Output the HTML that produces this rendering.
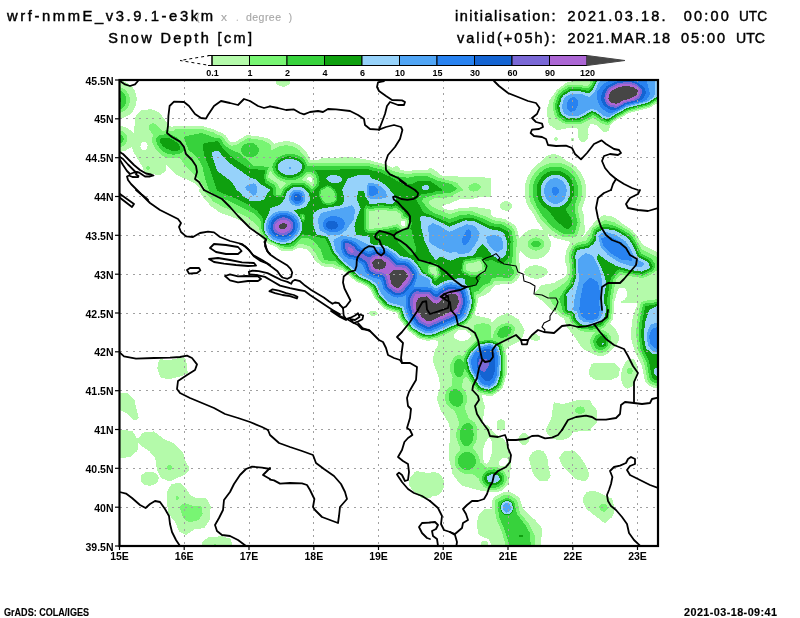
<!DOCTYPE html>
<html><head><meta charset="utf-8"><title>Snow Depth</title>
<style>
html,body{margin:0;padding:0;background:#fff;}
body{width:800px;height:618px;overflow:hidden;position:relative;font-family:"Liberation Sans",sans-serif;}
svg{position:absolute;left:0;top:0;will-change:transform;}
.t{position:absolute;white-space:nowrap;color:#000;font-family:"Liberation Sans",sans-serif;}
svg text{font-family:"Liberation Sans",sans-serif;font-size:10.5px;font-weight:bold;fill:#000;}
svg text.cbl{font-size:9px;font-weight:bold;}
</style></head><body>
<svg width="800" height="618" viewBox="0 0 800 618">
<defs><clipPath id="fr"><rect x="119.5" y="80.0" width="538.5" height="466.0"/></clipPath></defs>
<g clip-path="url(#fr)" shape-rendering="crispEdges">
<path fill="#b4faaa" fill-rule="evenodd" d="M283.2,86.8L279.8,86.2L276.7,84.2L276.0,81.8L277.7,79.2L288.3,79.2L289.5,80.8L290.1,82.8L288.8,84.8L286.2,86.2L283.2,86.8ZM583.2,142.3L580.4,141.2L578.3,138.2L577.5,134.8L578.2,129.2L577.8,128.7L570.2,127.5L557.8,130.3L548.8,124.8L546.6,111.8L546.8,109.3L549.5,100.2L556.9,89.8L565.8,83.0L573.8,80.6L587.2,80.5L588.4,80.2L589.1,79.2L597.8,79.1L658.4,79.2L658.2,102.5L650.2,107.6L629.2,112.9L616.2,120.2L610.8,124.2L610.0,125.2L609.2,130.5L605.2,132.1L603.8,132.3L602.8,131.8L596.8,125.3L591.8,124.0L590.2,124.2L587.9,128.8L588.6,134.2L587.8,138.2L585.8,141.2L583.2,142.3ZM121.2,118.3L118.8,118.5L118.8,80.7L122.2,81.1L125.8,82.2L131.1,85.8L133.3,88.2L135.2,91.8L136.8,98.2L136.0,105.2L132.8,111.6L130.2,114.2L127.4,116.2L121.2,118.3ZM496.8,492.4L490.2,492.4L476.8,489.8L462.2,485.7L460.1,484.2L452.6,474.2L448.6,456.8L450.0,435.8L450.0,428.8L448.2,422.2L440.5,410.2L436.7,398.8L440.3,385.8L438.4,376.2L433.1,362.2L432.6,359.8L435.2,349.2L438.4,345.2L438.4,342.8L437.2,340.9L434.8,339.7L427.8,340.8L419.8,339.0L415.8,336.4L408.5,330.8L403.1,324.2L398.7,318.2L397.0,312.8L387.2,310.1L384.7,308.8L374.9,298.8L370.2,289.1L365.7,285.8L355.4,281.2L348.5,274.8L342.8,270.3L335.8,268.8L332.2,266.8L324.8,266.6L321.2,265.7L314.7,260.2L311.0,253.8L307.1,249.8L305.2,248.8L298.2,247.7L294.2,250.3L289.8,251.2L284.2,251.2L279.8,250.1L275.8,246.9L269.2,244.1L262.5,239.2L259.7,236.2L257.2,231.8L244.8,223.1L234.2,217.8L220.2,212.7L211.2,206.4L205.1,199.8L199.0,191.2L198.8,190.2L199.7,188.8L199.5,187.8L195.2,183.5L177.2,175.2L166.2,164.3L165.6,165.2L165.7,170.8L160.2,175.2L158.8,175.3L146.8,173.0L145.1,172.2L143.6,170.8L142.5,166.8L133.0,151.2L132.2,146.9L131.8,146.7L125.2,150.9L118.8,152.2L118.8,125.8L122.8,126.3L126.7,127.8L129.8,129.7L133.2,133.0L134.0,131.8L135.1,118.8L136.2,115.2L141.2,110.3L151.2,109.1L159.8,112.7L169.2,126.2L172.2,126.7L176.2,126.1L198.8,125.5L203.2,126.3L214.2,129.4L218.8,131.9L222.8,133.2L225.3,135.2L228.9,140.2L231.8,142.6L235.8,141.8L245.2,135.8L248.2,135.1L260.8,136.8L269.2,138.9L270.2,139.4L274.2,143.8L279.8,142.0L284.2,141.3L289.2,141.4L293.8,142.5L298.8,144.8L303.2,148.3L306.4,152.2L310.0,159.2L311.2,160.2L316.8,160.3L322.2,158.1L350.8,157.1L369.8,160.1L376.2,162.2L384.8,164.0L392.2,167.6L393.2,167.6L395.8,166.3L397.2,166.3L398.8,167.2L400.2,169.5L406.8,171.2L415.8,169.9L427.8,169.8L429.8,167.3L435.8,170.8L440.2,174.9L444.2,176.0L489.8,177.7L490.6,178.2L490.9,179.8L490.9,195.2L490.2,197.1L478.2,197.5L470.2,199.4L458.8,199.5L450.7,203.2L442.2,205.6L441.7,206.8L444.2,208.5L449.2,210.5L453.2,209.9L458.8,208.2L474.8,207.1L489.8,209.2L490.8,210.2L491.1,214.8L493.8,217.1L504.8,219.0L514.3,224.8L516.8,228.2L518.8,236.4L519.8,238.1L524.3,232.8L529.8,229.6L535.8,228.8L543.2,230.6L543.7,230.2L536.8,220.8L533.8,214.4L528.9,207.8L526.6,202.8L525.1,197.8L524.5,190.2L525.4,183.2L527.9,176.2L531.6,170.2L545.0,157.2L548.8,155.1L552.8,154.2L556.2,154.4L559.8,155.8L565.8,160.3L572.2,163.8L576.2,167.0L580.2,171.7L583.2,176.8L585.2,182.2L586.2,188.2L586.3,193.2L585.6,198.2L581.9,208.2L583.9,215.8L585.0,232.2L584.3,233.8L581.7,236.2L581.6,237.2L583.8,235.9L594.6,221.8L601.8,216.2L604.2,215.1L612.2,216.6L615.7,218.2L623.1,224.2L632.2,230.0L637.2,236.2L643.0,245.2L658.2,252.8L658.2,388.4L654.2,387.9L650.8,386.5L647.8,384.8L645.8,382.6L644.6,379.8L641.9,365.8L634.6,350.8L631.1,338.8L630.6,334.8L632.6,317.8L637.5,303.8L635.8,303.2L622.2,303.1L620.8,302.3L620.4,301.2L624.2,300.2L626.7,296.8L627.0,292.2L625.2,288.8L623.2,287.5L620.8,287.5L618.8,288.7L617.4,290.8L614.6,300.8L614.1,304.2L614.3,308.2L612.9,318.8L610.3,323.8L610.8,324.8L615.0,328.2L619.5,337.2L619.3,339.8L616.3,345.2L613.4,347.8L610.2,351.9L607.2,354.1L604.2,355.4L600.8,356.0L597.8,355.7L593.2,354.2L583.8,349.5L582.3,348.2L574.9,337.2L566.8,326.8L564.2,318.6L560.8,316.8L555.2,311.9L552.8,310.8L544.8,303.0L535.6,295.8L534.8,294.2L535.6,292.2L541.2,285.3L553.8,282.9L564.8,277.0L567.2,272.2L567.5,269.8L567.2,267.5L564.8,261.1L564.6,259.2L566.6,249.8L569.7,243.2L569.8,241.8L555.3,238.2L547.8,233.5L547.2,233.8L550.5,240.8L550.7,246.2L549.8,249.6L548.3,252.2L543.7,256.8L537.8,259.0L534.2,259.2L531.0,258.8L525.6,256.2L520.2,250.5L519.8,250.7L519.0,258.2L520.5,272.8L520.0,275.2L516.8,280.7L511.8,283.7L502.8,284.0L495.2,285.4L494.0,286.2L489.8,291.7L484.8,295.0L477.8,297.8L477.5,303.2L474.8,314.2L475.2,315.2L476.8,315.9L489.8,318.6L490.6,319.2L491.5,321.8L492.8,322.1L497.8,317.0L506.8,313.3L508.2,313.3L518.8,319.6L524.8,330.2L521.7,338.8L520.2,341.2L510.8,345.3L505.8,349.2L506.6,355.8L506.6,374.8L502.7,387.8L500.2,390.4L492.8,395.5L489.2,396.1L482.8,395.0L481.7,395.8L484.9,406.2L482.2,424.5L488.2,425.4L491.0,429.8L495.8,434.5L504.2,439.2L509.9,450.2L510.9,467.2L509.0,481.8L507.2,485.4L504.2,488.7L500.8,491.0L496.8,492.4ZM556.8,141.0L555.2,141.0L554.0,139.8L554.0,138.2L555.2,137.0L556.8,137.0L558.0,138.2L558.0,139.8L556.8,141.0ZM573.2,141.3L571.8,141.4L570.8,140.2L570.9,138.8L571.8,137.9L572.8,137.8L574.0,138.8L574.0,140.2L573.2,141.3ZM145.2,150.2L147.4,147.8L147.6,144.8L145.8,142.1L143.2,141.6L140.8,143.8L140.4,147.2L142.2,149.9L143.8,150.5L145.2,150.2ZM311.8,181.8L312.1,180.2L311.5,178.2L310.2,176.9L308.8,176.8L307.3,178.2L307.1,179.2L310.8,182.1L311.8,181.8ZM506.8,210.8L502.8,210.1L501.1,208.8L500.2,207.2L500.1,205.2L500.7,203.8L503.8,201.5L506.2,201.2L508.8,201.7L510.8,203.1L511.8,204.8L511.9,206.8L510.9,208.8L509.2,210.1L506.8,210.8ZM404.4,225.8L405.4,224.2L405.2,222.1L403.8,220.7L401.8,220.9L400.5,222.8L400.7,224.8L402.2,226.1L404.4,225.8ZM537.8,278.8L531.8,278.3L526.8,276.1L525.2,274.7L524.3,272.8L524.3,271.2L525.2,269.3L529.2,266.5L534.8,265.2L540.6,265.8L545.2,267.9L547.6,270.8L547.8,272.6L547.1,274.2L543.4,277.2L537.8,278.8ZM374.2,315.8L372.2,315.8L370.2,315.1L369.1,313.8L369.3,312.2L370.8,311.1L372.8,310.6L376.2,311.7L377.5,312.8L377.8,313.9L376.8,314.9L374.2,315.8ZM464.6,340.8L468.8,339.0L470.9,336.2L470.1,333.8L466.2,330.7L463.2,329.5L459.8,329.7L457.2,331.0L454.0,334.2L453.8,336.8L456.2,339.3L460.2,340.8L464.6,340.8ZM537.2,340.8L534.8,340.8L530.5,339.2L529.2,337.8L529.4,335.8L531.2,334.3L533.2,333.8L535.2,333.8L537.6,334.8L540.1,336.8L540.5,338.2L539.5,339.8L537.2,340.8ZM170.2,378.8L167.2,379.1L161.2,377.5L159.8,376.2L157.3,368.2L158.4,361.8L159.2,359.8L161.2,359.3L167.8,360.2L183.2,357.4L185.2,357.7L186.1,360.2L187.2,368.2L187.7,372.2L187.3,373.8L178.8,377.0L170.2,378.8ZM629.2,388.3L627.2,388.6L625.8,388.3L623.2,385.8L621.5,380.8L621.1,374.2L622.5,368.2L625.2,362.8L628.2,359.7L631.8,358.6L634.2,359.7L636.3,362.8L637.5,367.2L637.6,372.8L636.8,377.5L634.8,382.4L632.2,386.0L629.2,388.3ZM611.2,379.8L595.8,380.1L590.2,376.5L589.4,375.2L588.8,370.2L591.6,364.2L593.2,363.3L604.8,362.8L613.2,362.8L614.8,363.4L619.4,367.8L619.7,369.2L619.2,373.8L618.6,376.2L617.8,377.2L611.2,379.8ZM136.2,420.3L134.8,420.6L133.8,420.1L127.2,413.3L118.8,409.5L118.8,392.3L128.2,393.6L134.4,399.8L138.6,417.8L138.0,419.2L136.2,420.3ZM563.2,439.8L557.2,439.8L551.8,438.1L548.3,435.2L545.7,430.2L546.0,428.8L551.4,417.8L553.1,405.2L553.9,402.8L554.8,402.3L556.8,403.3L558.8,403.2L563.2,404.0L577.2,400.1L590.2,400.4L591.5,403.2L596.8,410.2L596.9,421.2L596.3,423.2L591.5,428.2L590.8,430.4L589.9,431.2L573.8,431.6L570.2,436.8L566.8,438.8L563.2,439.8ZM502.2,430.4L500.2,430.6L498.8,429.9L497.2,428.3L496.5,426.2L496.5,423.8L497.2,421.8L498.5,420.2L500.2,419.4L501.8,419.4L503.5,420.2L504.8,421.8L505.5,423.8L505.1,427.8L503.8,429.5L502.2,430.4ZM171.2,480.8L168.8,481.0L162.2,478.5L160.5,477.2L156.9,470.2L155.3,458.2L149.3,451.2L141.5,446.2L138.2,442.2L137.4,450.8L132.5,455.2L129.8,457.1L118.8,458.2L118.8,430.3L132.2,430.6L136.8,438.0L137.8,438.6L143.2,432.6L153.8,431.4L164.2,439.2L172.8,442.7L175.1,444.2L182.8,452.2L185.6,461.2L189.5,468.2L188.8,470.3L186.2,473.9L171.2,480.8ZM525.2,444.8L523.2,445.0L521.2,444.1L519.2,442.0L518.4,439.8L518.5,437.8L519.4,435.8L521.2,433.9L523.2,433.0L525.2,433.2L527.2,434.2L528.9,436.2L529.6,438.2L528.8,442.0L527.2,443.8L525.2,444.8ZM486.6,463.8L488.2,462.3L489.8,459.7L492.4,451.2L491.8,441.8L490.8,439.0L489.2,438.1L487.8,438.8L485.7,441.8L483.6,447.2L482.8,451.2L482.9,456.8L483.7,461.2L484.8,463.3L486.6,463.8ZM547.2,480.9L541.2,481.2L539.2,480.8L534.8,476.0L532.3,471.8L528.9,458.2L532.2,452.7L533.8,451.3L536.8,450.3L543.2,450.6L547.3,457.2L548.9,468.8L550.6,475.8L549.8,477.8L547.2,480.9ZM586.2,480.9L584.8,481.2L577.2,479.9L571.2,475.1L562.8,466.5L558.9,458.2L563.0,451.8L566.8,450.8L572.8,450.4L575.0,451.8L579.8,456.0L585.3,464.2L589.5,474.2L589.2,476.3L586.2,480.9ZM504.4,465.8L507.2,463.8L508.5,461.2L508.0,459.2L505.8,458.0L503.2,458.1L501.2,459.0L499.6,460.8L498.8,462.8L499.0,464.2L500.2,465.6L502.2,466.1L504.4,465.8ZM152.8,485.3L149.8,485.7L146.8,485.4L144.2,484.4L142.2,482.8L140.8,480.3L140.5,478.2L141.2,475.8L143.0,473.8L146.2,472.0L150.2,471.5L154.2,472.5L157.5,474.8L158.7,477.2L158.2,480.8L156.2,483.4L152.8,485.3ZM430.2,497.9L421.2,497.9L413.2,491.1L409.2,485.3L408.8,483.2L409.8,478.2L415.2,471.6L417.2,471.3L422.8,471.8L428.8,473.5L432.2,472.2L435.8,472.2L439.3,473.8L442.3,477.2L443.7,480.8L444.0,484.2L443.5,487.8L442.2,490.9L438.5,494.8L435.8,495.8L432.2,496.1L430.2,497.9ZM186.2,534.9L183.8,534.3L178.8,531.2L175.7,522.8L168.8,514.2L166.9,503.8L166.8,492.8L168.2,489.2L171.2,484.6L178.2,482.4L180.8,483.5L185.1,487.2L189.7,494.2L191.2,495.7L196.2,498.1L205.2,498.3L206.5,498.8L209.3,503.2L210.7,506.8L209.6,520.2L204.8,527.5L201.2,528.6L194.2,529.4L186.2,534.9ZM540.8,546.8L492.5,546.8L488.8,539.4L480.2,535.8L478.6,534.2L476.6,524.2L478.8,514.8L484.2,509.3L491.8,508.8L492.4,499.8L493.5,497.8L495.2,496.3L503.2,492.2L505.8,491.6L509.2,491.9L512.2,493.2L516.8,495.8L519.0,497.8L520.0,499.2L521.8,505.2L524.2,510.0L535.2,520.1L541.7,527.8L541.9,532.2L540.8,546.8ZM605.2,522.9L604.2,522.9L602.0,521.2L587.5,509.8L585.8,507.7L583.7,503.8L582.8,498.8L583.7,496.2L586.2,492.6L589.8,491.4L596.2,491.4L612.3,498.8L614.1,506.2L614.5,511.2L612.2,517.0L605.2,522.9ZM232.8,546.8L201.8,546.8L201.8,542.8L202.8,541.0L209.2,537.0L222.2,536.3L230.2,538.6L233.0,545.8L233.2,546.8L232.8,546.8ZM485.2,546.8L483.2,546.8L480.7,544.8L480.6,542.8L481.8,541.5L485.2,540.7L488.0,542.2L488.5,543.2L488.1,544.8L485.2,546.8Z"/>
<path fill="#78f573" fill-rule="evenodd" d="M607.8,125.5L600.8,123.0L593.2,117.7L582.2,123.5L578.8,124.4L567.8,124.5L562.8,122.9L557.8,119.6L555.8,117.5L554.6,115.2L552.9,109.2L552.5,106.2L553.0,103.2L556.4,93.8L559.2,90.7L565.2,86.4L567.2,85.5L570.2,85.0L579.8,85.0L587.2,86.0L589.2,84.2L591.6,79.2L658.4,79.2L658.2,101.1L656.2,101.8L649.8,106.3L628.8,111.6L615.2,119.2L609.8,123.2L607.8,125.5ZM120.2,112.8L118.8,112.9L118.8,87.1L122.8,88.0L126.2,90.5L128.9,94.8L129.9,99.2L129.4,103.8L127.3,108.2L124.2,111.2L120.2,112.8ZM431.2,338.8L427.8,339.2L420.2,337.6L410.8,330.8L408.1,328.2L400.4,318.2L398.4,311.8L387.8,308.7L385.1,307.2L376.2,298.2L371.2,288.0L366.2,284.4L356.2,280.1L349.5,273.8L341.2,267.3L336.8,266.0L333.2,263.7L325.2,263.6L322.8,263.0L318.8,259.8L314.9,252.2L311.2,247.1L305.2,244.6L299.2,243.8L292.8,248.5L284.8,249.0L280.8,248.1L276.6,244.8L269.8,241.9L262.9,236.8L260.8,233.8L258.2,226.5L248.8,218.1L238.2,212.8L223.8,207.5L213.2,201.4L204.2,191.2L203.8,190.2L204.6,188.8L204.5,187.8L198.8,179.0L184.8,165.1L180.2,158.1L172.2,158.5L166.8,157.7L161.2,155.0L156.8,150.8L154.5,147.2L152.5,142.8L151.9,138.8L153.0,134.8L149.0,129.2L148.6,127.2L149.5,124.8L152.2,123.2L155.2,123.9L161.8,130.7L167.8,130.3L173.8,131.1L175.2,129.4L176.2,129.1L186.2,129.0L189.2,128.6L199.2,128.6L202.2,129.1L213.2,132.3L217.2,134.7L221.2,135.8L223.5,137.8L226.8,142.8L231.2,145.9L237.2,144.5L246.3,138.8L248.2,138.1L262.2,140.1L269.2,143.5L270.8,145.0L271.1,149.8L271.8,150.6L276.2,147.7L280.8,145.9L285.8,145.3L290.5,145.8L294.9,147.2L299.4,150.2L307.0,159.2L309.2,162.8L310.2,163.3L370.2,163.5L383.2,166.7L392.8,170.9L406.8,174.3L416.2,172.9L430.0,173.2L437.8,177.5L456.8,182.6L462.5,189.2L462.8,190.2L462.2,191.1L459.0,191.8L450.8,196.7L442.2,198.4L436.8,198.0L432.9,198.8L429.2,201.2L428.7,202.2L429.2,203.2L432.2,206.8L449.2,214.1L450.8,214.1L459.2,211.1L470.2,210.6L489.2,217.8L492.8,220.1L503.3,221.8L511.4,226.2L514.2,229.8L516.9,240.8L516.0,254.2L516.0,266.8L517.5,272.8L516.1,275.8L511.8,280.5L508.2,281.1L498.2,280.5L493.8,281.6L491.7,284.8L486.2,287.1L480.2,293.2L475.8,295.2L476.3,302.2L474.8,310.0L471.5,317.8L467.2,323.1L463.2,325.9L440.2,336.5L436.8,337.9L431.2,338.8ZM120.2,147.4L118.8,147.6L118.8,130.4L122.1,131.2L124.8,133.0L126.5,135.2L127.4,138.2L127.1,141.2L125.8,143.9L123.2,146.1L120.2,147.4ZM575.2,236.8L571.8,237.2L562.2,236.8L550.8,229.8L540.2,218.2L530.7,202.2L529.0,196.8L528.5,191.2L528.9,185.8L530.5,180.2L533.0,175.2L536.5,170.8L540.8,167.1L545.8,164.4L550.8,162.9L555.8,162.5L560.8,163.0L565.8,164.7L570.2,167.2L574.3,170.8L577.8,175.1L580.1,179.8L582.0,186.2L582.3,193.2L581.2,199.2L578.3,206.2L577.7,209.2L580.6,222.8L577.8,233.8L576.7,235.8L575.2,236.8ZM148.8,169.9L147.2,169.9L146.1,168.8L146.1,167.2L147.2,166.1L148.8,166.0L150.0,167.2L149.9,168.8L148.8,169.9ZM280.6,188.8L286.1,183.8L286.2,182.8L280.8,180.8L276.8,178.4L273.2,175.1L270.2,170.4L269.8,170.6L268.2,176.2L268.4,177.8L276.2,182.7L278.6,185.8L279.8,189.1L280.6,188.8ZM313.2,185.8L314.6,181.2L314.0,177.8L311.2,174.6L309.2,173.9L307.8,174.1L301.9,179.8L302.2,180.2L306.2,181.7L311.8,185.9L313.2,185.8ZM476.2,191.3L472.8,191.6L469.8,190.2L468.3,188.2L469.0,185.8L470.9,184.2L474.2,183.1L476.8,183.3L479.2,184.5L480.5,186.2L480.5,188.2L478.9,190.2L476.2,191.3ZM372.2,228.8L385.8,227.0L397.2,224.1L398.2,224.4L400.8,227.6L403.8,228.2L405.2,227.6L406.7,226.2L407.6,222.8L406.8,220.8L405.4,219.2L400.8,218.2L400.8,214.2L395.8,210.6L390.8,211.0L381.8,209.7L369.2,211.1L368.5,212.8L368.5,227.8L369.8,228.9L372.2,228.8ZM602.2,352.8L598.8,352.8L595.7,351.8L592.8,349.3L591.0,346.2L590.1,342.2L590.5,338.8L592.2,335.2L594.8,332.2L584.2,331.5L579.2,330.4L577.3,329.2L570.5,322.2L568.7,317.2L564.8,316.1L562.2,314.8L553.6,305.2L551.0,301.2L548.6,294.2L549.7,292.8L561.0,285.8L568.2,279.4L570.0,273.8L570.0,265.2L568.6,260.2L569.0,254.2L569.8,251.2L572.5,246.2L576.2,243.1L585.8,240.6L590.2,234.4L591.7,229.8L592.9,227.8L603.2,220.8L605.2,220.1L614.1,222.2L629.8,231.2L633.9,235.2L642.1,249.8L658.2,257.8L658.2,270.4L655.2,271.5L652.2,273.7L645.8,277.0L642.2,277.9L620.8,274.9L619.2,275.9L615.8,280.2L611.9,302.2L612.3,307.8L610.8,318.8L605.2,326.2L601.0,329.8L605.8,331.1L609.2,333.9L611.4,338.2L611.6,343.2L610.4,346.8L608.2,349.6L605.3,351.8L602.2,352.8ZM538.8,250.3L536.2,250.7L533.2,250.3L530.8,249.0L528.8,247.2L527.7,245.2L527.6,243.2L528.4,241.2L530.2,239.3L533.2,237.7L536.8,237.3L540.2,238.3L543.2,240.8L544.4,243.2L544.1,245.8L542.2,248.3L538.8,250.3ZM476.9,271.8L481.2,270.2L482.2,268.5L482.2,265.2L479.8,260.7L478.8,260.5L475.8,262.2L466.2,263.9L465.6,268.8L466.2,270.2L472.2,272.1L476.9,271.8ZM436.3,275.8L437.1,273.8L435.8,267.5L433.2,266.6L429.8,267.0L429.3,268.2L430.2,272.2L435.2,275.9L436.3,275.8ZM658.2,385.9L655.2,385.6L651.2,384.0L649.2,382.8L647.6,380.8L644.1,362.8L638.4,350.8L636.0,335.2L637.1,320.8L639.8,306.2L640.9,303.2L642.2,301.7L644.2,300.8L658.2,299.1L658.2,385.9ZM494.2,490.3L489.2,489.8L484.2,487.3L480.5,483.2L478.8,478.6L472.2,473.7L466.2,474.1L462.8,473.2L458.8,470.8L456.0,467.2L454.6,462.8L454.8,458.2L456.3,454.2L459.8,450.2L460.2,448.8L460.0,446.8L456.9,440.2L456.1,435.2L456.8,430.2L459.5,423.2L454.8,410.8L449.8,407.6L446.6,403.8L445.1,399.8L444.9,395.8L446.8,390.2L448.8,387.9L451.2,386.1L452.0,384.8L452.6,377.2L450.6,372.2L449.9,367.8L450.6,363.8L452.1,360.2L454.3,357.2L456.8,355.5L459.2,355.0L463.2,356.0L467.1,349.2L476.2,339.8L473.5,334.2L473.7,325.2L476.8,324.1L483.8,323.1L490.1,324.8L490.9,326.2L491.1,336.8L491.6,337.8L492.8,337.9L493.8,332.2L497.7,326.8L501.8,324.1L507.2,323.1L510.8,323.8L513.2,325.2L514.6,327.2L514.9,330.2L513.4,334.2L510.6,337.8L507.2,339.8L501.6,341.8L503.2,345.8L505.0,355.2L505.0,373.8L503.6,380.2L501.1,387.2L493.8,393.1L491.2,394.2L488.2,394.4L479.8,392.5L477.8,391.6L476.2,390.2L466.2,376.1L463.0,379.8L461.9,387.2L465.5,392.2L467.0,396.2L467.0,401.8L464.7,407.2L467.4,415.2L468.8,418.8L474.0,421.8L475.6,423.8L476.7,426.2L477.0,437.8L475.9,441.8L473.5,446.2L473.4,448.8L478.4,455.2L479.4,458.2L479.9,462.2L486.8,467.6L493.8,466.7L496.8,467.1L500.2,468.5L504.2,471.8L506.6,475.8L507.1,478.2L506.8,480.8L504.4,485.2L499.8,488.8L494.2,490.3ZM630.8,374.4L628.2,374.4L626.5,372.2L626.7,369.2L628.8,367.5L631.1,367.8L632.7,369.8L632.7,372.2L630.8,374.4ZM580.8,413.8L577.8,413.5L575.2,411.6L575.0,409.2L576.8,407.2L580.8,406.3L582.8,406.9L584.3,408.2L584.9,409.8L584.5,411.8L582.8,413.2L580.8,413.8ZM170.8,469.9L168.8,470.1L167.1,468.2L167.3,466.2L168.8,465.1L170.8,465.2L172.1,466.8L172.0,468.8L170.8,469.9ZM534.8,546.8L506.1,546.8L501.8,531.8L495.7,517.2L494.9,502.8L495.2,500.8L496.3,499.2L504.2,495.1L506.8,494.5L511.2,496.1L516.7,499.8L517.8,502.8L519.9,512.8L528.8,523.8L534.7,535.8L534.8,546.8ZM177.8,499.8L176.8,500.0L175.7,498.8L175.7,497.2L176.8,496.0L177.8,496.2L178.5,497.2L178.6,498.8L177.8,499.8ZM192.2,521.8L189.8,522.2L187.2,521.4L184.8,519.7L183.3,517.8L179.5,507.2L180.2,505.9L183.8,503.4L185.8,503.3L194.2,506.2L200.2,506.3L201.6,507.2L202.7,513.8L201.6,516.2L198.2,520.1L192.2,521.8ZM604.2,511.8L601.2,511.0L599.4,508.2L599.6,505.2L602.2,503.5L605.8,504.0L607.6,506.8L607.6,508.8L606.9,510.2L604.2,511.8ZM215.2,546.3L214.2,546.2L213.4,545.2L214.2,543.9L215.8,543.9L216.6,544.8L216.4,545.8L215.2,546.3Z"/>
<path fill="#37d23c" fill-rule="evenodd" d="M607.8,122.9L601.8,120.9L595.6,116.2L592.8,115.2L586.8,118.7L579.2,122.1L568.2,122.3L564.4,121.2L557.7,116.2L555.1,108.8L555.0,104.2L558.2,94.9L562.2,91.2L568.2,87.5L580.2,87.2L588.2,88.3L591.2,85.3L594.1,79.2L658.3,79.2L658.2,99.8L655.8,100.6L649.2,105.0L628.2,110.3L615.0,117.8L607.8,122.9ZM119.8,109.3L118.8,109.4L118.8,90.6L121.2,91.1L123.8,92.9L125.5,95.8L126.3,99.2L126.0,102.8L124.8,105.8L122.4,108.2L119.8,109.3ZM429.2,337.8L420.8,336.3L411.0,329.2L401.4,317.2L399.6,310.8L388.8,307.6L386.1,306.2L377.3,297.2L373.0,287.8L368.2,284.0L356.8,278.7L350.2,272.5L342.2,266.1L338.2,263.8L335.2,261.0L324.2,260.2L320.5,249.2L315.2,242.5L310.3,238.8L306.2,237.8L301.8,237.5L293.3,245.8L289.8,246.8L282.2,246.4L272.2,242.1L269.3,240.2L266.1,237.2L263.0,233.2L260.9,226.8L260.9,222.2L260.2,220.2L253.2,213.1L230.8,201.7L218.2,196.9L209.2,190.8L205.1,179.2L202.2,166.0L196.8,156.8L188.7,150.2L184.0,138.2L184.2,136.8L186.2,136.0L201.8,132.9L214.8,137.8L219.2,138.2L221.2,139.8L223.9,144.2L225.8,146.0L230.8,149.6L240.6,153.8L253.3,165.8L269.2,166.8L267.8,169.2L266.8,172.8L266.1,176.2L266.3,178.8L267.2,180.8L272.8,183.8L275.4,186.2L276.5,189.8L276.0,193.8L276.5,194.8L277.5,195.2L280.8,194.7L283.8,188.6L291.8,183.0L303.8,183.0L306.8,184.7L312.2,189.2L315.2,186.8L316.6,183.8L317.1,179.8L316.1,176.2L313.7,173.2L310.2,171.5L306.8,171.5L303.2,175.3L299.8,177.8L295.8,179.5L291.2,180.3L286.8,180.1L282.2,178.8L278.2,176.5L275.2,173.7L273.5,170.8L272.1,166.8L273.8,162.6L275.7,159.8L279.2,156.8L283.2,154.8L287.8,153.8L292.8,153.9L297.8,155.2L302.2,157.9L305.2,161.0L307.5,165.8L308.2,166.3L369.8,166.4L373.2,167.7L382.2,169.6L396.2,176.2L408.2,177.8L416.2,175.9L426.8,175.9L436.8,180.4L450.8,183.9L456.3,187.8L456.8,188.8L456.3,189.8L450.8,192.5L445.2,192.8L441.8,194.1L436.2,194.3L423.2,198.4L422.2,200.2L422.4,201.8L428.8,209.5L434.2,213.0L449.8,219.1L459.2,215.5L468.2,214.4L471.2,214.6L482.8,218.6L492.2,223.2L502.2,224.6L509.8,228.8L511.0,230.2L511.8,232.2L513.6,241.2L512.6,256.8L510.9,265.8L514.3,271.8L513.3,274.2L509.8,278.0L498.2,277.1L491.1,278.8L489.8,282.9L482.2,285.7L478.3,290.8L473.6,292.2L474.9,301.2L473.6,308.8L470.6,316.2L466.9,321.2L462.2,324.6L447.2,331.6L436.2,336.3L429.2,337.8ZM119.8,143.8L118.8,143.9L118.8,134.1L122.2,135.6L123.8,138.8L122.8,141.8L119.8,143.8ZM177.8,154.3L173.2,154.6L169.2,154.2L165.8,153.0L162.8,151.1L159.2,147.5L156.7,143.2L155.9,139.8L156.8,137.2L158.2,135.9L160.8,134.9L167.2,134.2L172.8,135.2L177.3,137.8L182.5,143.8L184.2,148.8L183.8,150.8L182.6,152.2L177.8,154.3ZM251.8,157.3L248.8,157.3L245.8,156.6L243.2,155.1L241.9,153.2L241.1,150.2L241.6,147.8L243.2,145.3L245.8,143.7L249.2,142.8L253.2,143.3L256.2,144.9L258.5,147.8L258.9,150.8L257.7,153.8L255.2,156.0L251.8,157.3ZM573.8,234.0L563.2,233.9L552.2,226.9L542.7,216.2L537.2,207.1L534.4,200.8L533.0,196.2L532.5,191.2L532.8,186.8L534.1,181.8L536.4,177.2L539.6,173.2L543.2,170.2L547.2,168.1L551.2,166.9L555.8,166.5L560.2,167.0L564.2,168.4L568.2,170.7L571.7,173.8L574.4,177.2L576.6,181.8L578.1,187.2L578.3,192.8L577.4,197.8L575.2,203.8L574.6,209.8L577.6,222.2L575.0,232.2L573.8,234.0ZM329.5,202.8L334.0,201.8L335.5,200.2L335.8,198.8L334.0,191.2L329.2,187.4L327.8,186.8L321.5,190.2L320.2,195.2L323.8,202.0L326.2,203.1L329.5,202.8ZM374.0,230.8L386.2,229.1L396.2,226.7L400.8,229.9L402.8,230.4L404.8,230.1L406.8,229.1L408.8,226.8L409.6,224.2L409.4,221.8L407.4,218.2L403.7,216.2L402.2,212.2L396.2,208.1L391.2,208.8L381.8,207.5L371.2,208.8L367.2,208.4L366.7,208.8L366.2,210.4L366.5,228.8L367.4,230.2L368.8,231.0L374.0,230.8ZM303.3,219.2L303.8,218.2L303.6,216.8L302.8,215.5L301.8,215.2L301.4,216.2L302.8,219.2L303.3,219.2ZM592.2,329.8L581.2,328.7L578.2,327.2L571.9,320.8L570.3,315.2L565.8,314.3L563.2,312.2L559.1,298.2L561.8,294.5L562.9,291.8L569.3,283.8L572.2,275.8L572.5,269.2L571.2,256.2L571.7,253.2L573.8,248.0L575.2,246.4L577.8,245.2L587.8,243.0L591.6,237.8L593.1,231.8L594.3,229.2L601.8,225.1L605.8,223.6L617.2,226.8L630.2,234.3L632.1,236.2L636.9,244.2L641.2,253.6L650.8,258.2L655.1,263.8L655.4,266.2L653.6,269.8L652.2,271.2L642.8,275.7L631.2,274.2L621.2,272.1L619.8,272.1L618.4,272.8L613.8,278.6L612.7,281.2L609.5,301.8L610.3,307.8L608.8,318.2L602.2,326.1L592.2,329.8ZM538.2,246.8L535.8,247.2L533.2,246.6L531.5,245.2L531.2,243.2L532.2,242.0L534.2,241.0L536.8,240.8L538.8,241.4L540.5,242.8L540.9,244.2L540.0,245.8L538.2,246.8ZM474.7,275.2L483.2,273.4L485.0,272.2L485.2,270.8L483.7,262.8L480.2,258.7L478.2,258.5L474.2,260.1L465.2,261.4L464.1,262.2L462.8,269.2L463.3,271.2L471.2,275.5L474.7,275.2ZM436.3,278.2L438.8,275.8L439.6,274.2L437.2,266.1L436.2,265.1L434.2,264.7L428.8,265.5L427.6,267.8L428.4,272.8L432.8,275.7L435.2,278.4L436.3,278.2ZM658.2,383.4L656.2,383.3L652.2,381.6L650.8,380.7L649.7,379.2L646.5,361.8L640.7,349.8L638.5,335.2L639.6,320.8L642.9,304.8L645.2,303.1L652.2,303.0L658.2,301.3L658.2,383.4ZM503.8,337.8L500.2,337.7L497.9,336.2L497.2,333.8L498.0,331.2L500.2,328.5L503.2,326.7L506.8,326.1L509.8,326.7L510.9,327.8L511.6,329.2L510.8,332.8L507.8,336.1L503.8,337.8ZM601.8,349.8L598.8,349.8L595.9,348.2L594.1,345.8L593.2,342.2L593.7,339.2L595.4,336.2L598.2,334.0L601.2,333.2L604.2,333.8L606.4,335.2L608.1,337.8L608.7,340.8L608.3,344.2L607.2,346.8L605.2,348.6L601.8,349.8ZM490.2,392.8L482.8,391.6L478.1,389.8L470.2,378.2L464.8,368.6L462.3,375.2L460.8,376.8L458.8,377.3L456.8,376.4L455.2,374.5L454.1,371.8L453.6,368.2L454.3,363.8L456.2,360.1L457.8,358.9L459.8,358.8L463.5,361.8L464.6,357.8L468.2,350.8L476.2,342.6L479.2,341.3L489.2,339.5L497.2,341.9L500.4,343.8L501.7,346.8L503.4,356.2L503.4,374.8L500.6,384.8L498.3,387.8L492.8,391.8L490.2,392.8ZM457.8,406.8L454.8,406.4L452.2,405.1L449.8,402.2L448.7,399.2L448.5,395.8L449.4,392.8L451.2,390.5L453.8,389.3L456.8,389.4L459.8,390.9L462.2,393.8L463.3,396.8L463.5,400.2L462.6,403.2L460.4,405.8L457.8,406.8ZM468.2,446.4L465.2,446.5L462.5,444.2L460.5,440.2L459.6,435.2L460.2,430.5L462.1,426.2L464.7,423.8L467.8,423.0L470.7,423.8L472.8,425.9L473.3,427.8L473.6,434.8L473.3,438.2L472.2,441.8L470.3,444.8L468.2,446.4ZM468.2,470.3L464.8,470.1L461.8,468.6L459.2,465.8L458.1,462.2L458.3,458.8L459.9,455.2L462.7,452.8L465.8,451.7L469.2,451.9L472.2,453.4L474.8,456.2L475.9,459.8L475.7,463.2L474.1,466.8L471.3,469.2L468.2,470.3ZM494.8,487.8L490.8,487.7L486.8,486.1L483.8,483.6L481.9,480.2L482.0,476.8L483.6,473.8L486.5,471.2L490.2,469.7L494.8,469.4L498.8,470.6L502.4,473.2L504.4,476.8L504.5,480.2L502.5,483.8L499.2,486.3L494.8,487.8ZM530.2,546.8L509.7,546.8L504.8,530.2L499.0,516.8L497.9,504.8L498.0,502.2L498.8,501.4L506.8,497.6L509.8,498.8L514.3,501.8L516.8,513.8L524.8,524.2L530.4,533.8L530.6,546.8L530.2,546.8Z"/>
<path fill="#0fa00f" fill-rule="evenodd" d="M608.2,120.8L606.2,120.6L602.8,119.2L595.8,114.0L592.2,112.8L586.2,116.4L578.8,120.0L568.2,120.1L565.8,119.4L559.4,114.8L557.1,107.8L557.1,104.8L560.1,96.2L563.8,92.9L569.2,89.5L580.2,89.4L587.8,90.8L589.2,90.6L592.2,87.1L596.5,79.2L658.3,79.2L658.2,98.0L654.8,99.7L648.8,103.8L627.8,109.1L614.2,116.7L608.2,120.8ZM119.2,102.9L118.8,102.9L118.8,97.1L120.5,97.8L121.5,99.8L121.0,101.8L119.2,102.9ZM177.8,150.8L171.7,150.8L165.5,148.2L162.5,145.8L160.5,143.2L159.7,141.2L160.2,139.2L162.2,138.0L166.2,137.8L170.8,138.7L174.2,140.4L178.2,143.8L180.1,146.8L180.0,149.2L177.8,150.8ZM430.2,336.3L427.8,336.4L421.8,335.2L413.2,329.6L410.3,326.8L402.8,316.8L400.8,309.5L387.2,305.3L378.7,296.8L374.7,287.8L373.6,286.2L368.2,282.2L357.2,277.3L351.2,271.5L339.2,261.8L331.3,252.2L328.2,243.8L325.2,238.6L310.2,235.3L302.2,234.2L291.8,244.1L284.8,245.0L280.8,244.6L276.2,243.3L269.8,239.8L265.5,235.2L263.5,230.8L262.7,225.8L263.5,220.8L263.0,218.2L257.2,211.0L248.2,204.4L238.2,199.4L219.0,191.8L216.9,190.2L208.8,166.2L204.0,154.8L202.8,146.2L203.2,143.8L205.2,143.0L217.8,141.0L218.8,141.8L223.8,149.9L235.2,159.5L249.2,168.8L251.2,169.4L264.8,169.6L265.1,170.8L264.1,177.2L265.5,182.8L266.8,184.1L271.2,186.4L272.7,187.8L273.5,190.2L272.7,193.8L274.8,196.1L276.8,197.1L279.8,197.2L282.8,196.0L285.3,190.2L290.8,186.0L293.2,184.9L303.2,185.2L309.2,189.7L311.2,192.7L312.2,192.5L317.6,187.2L318.9,184.8L319.6,181.8L318.8,176.2L317.2,173.2L314.3,170.2L314.8,169.6L369.2,169.4L372.2,170.7L379.8,172.1L389.0,176.2L404.2,185.0L411.8,184.1L419.2,180.5L429.2,180.9L431.2,181.7L441.8,189.2L442.3,190.2L441.2,191.1L435.2,191.2L432.8,192.5L429.2,192.8L425.8,194.2L420.8,194.2L417.0,198.2L416.3,199.8L416.6,200.8L420.1,205.8L422.7,211.8L424.2,213.0L431.8,215.3L441.8,220.0L449.8,223.1L459.2,219.5L464.8,218.0L470.2,217.5L476.2,219.3L490.2,226.0L500.2,227.5L507.8,231.2L508.9,233.2L510.6,241.8L509.6,255.8L508.8,257.4L502.2,263.8L500.8,263.9L496.8,262.5L493.8,261.2L491.2,259.4L489.2,260.7L484.8,260.5L481.8,257.6L479.8,256.9L464.8,259.3L462.9,260.8L461.3,269.8L461.5,271.2L462.5,272.8L471.2,277.1L479.8,276.1L480.6,277.2L480.1,279.2L476.8,284.3L470.8,287.8L473.5,302.2L472.2,308.8L468.0,317.8L465.8,320.5L461.2,323.6L435.8,335.0L430.2,336.3ZM291.8,177.8L287.2,177.6L282.8,176.3L278.8,173.9L276.2,170.8L275.2,167.2L275.9,163.8L278.2,160.6L281.8,158.1L287.8,156.3L294.2,156.7L300.1,159.2L303.8,163.2L304.7,165.8L304.8,168.8L302.8,172.3L297.8,176.1L291.8,177.8ZM567.8,228.9L566.2,228.8L564.8,227.8L556.8,221.4L547.9,210.2L543.8,207.1L541.0,204.2L538.8,200.8L537.4,197.2L536.6,193.2L536.5,189.2L537.2,185.2L538.8,181.2L541.0,177.8L543.8,174.9L546.8,172.8L550.2,171.2L553.8,170.5L557.2,170.6L560.8,171.3L564.2,172.9L567.2,175.0L569.8,177.8L572.0,181.2L573.4,184.8L574.3,191.2L573.3,197.8L570.6,203.2L565.8,208.8L566.2,210.8L570.8,217.8L571.6,219.8L571.5,226.2L570.8,227.3L567.8,228.9ZM331.2,204.8L334.2,203.7L337.2,200.8L337.5,198.8L336.4,192.8L335.7,190.8L334.2,189.1L329.7,185.8L327.2,185.2L320.1,189.2L318.6,193.8L318.6,195.8L322.8,203.4L327.2,205.1L331.2,204.8ZM412.4,255.2L415.8,252.2L416.5,250.2L413.3,238.2L412.0,231.2L410.3,228.8L411.5,224.8L411.5,221.8L410.0,218.2L405.8,214.7L403.8,210.6L395.8,205.2L391.8,206.6L381.8,205.2L371.2,206.6L368.8,206.3L366.8,205.2L365.8,205.7L364.5,207.8L364.0,211.2L364.1,227.8L364.6,230.2L365.7,231.8L367.8,233.1L371.2,233.5L386.2,231.4L396.2,229.3L397.9,231.2L393.9,234.8L393.6,235.8L394.2,237.2L400.2,244.8L409.8,254.3L411.2,255.3L412.4,255.2ZM303.7,221.8L305.3,219.2L305.2,216.2L303.2,213.9L300.8,213.6L299.8,214.3L299.7,215.8L302.2,221.1L302.8,221.8L303.7,221.8ZM592.2,327.8L584.8,327.3L580.2,326.3L573.7,319.8L572.2,313.5L570.8,312.9L567.2,312.7L565.7,311.8L564.5,306.2L564.2,294.2L566.2,290.8L571.3,284.8L574.7,274.8L574.6,268.8L573.2,256.8L575.4,249.2L577.2,247.8L587.8,245.8L589.2,245.0L593.4,239.8L595.8,230.7L602.2,227.1L605.8,226.6L616.8,228.9L629.2,236.1L635.2,245.5L639.8,255.7L649.2,260.1L652.4,264.8L652.6,266.2L652.0,268.2L650.8,269.8L642.2,273.8L631.2,272.2L619.2,269.4L617.6,269.8L611.5,277.2L610.1,280.8L606.6,302.8L608.3,306.8L607.0,317.2L601.2,324.3L592.2,327.8ZM435.2,280.8L438.3,278.8L441.1,274.8L439.5,267.8L437.9,264.2L435.2,263.2L429.3,263.2L428.6,261.2L427.8,260.7L417.2,260.8L417.3,262.2L423.8,272.1L431.8,276.7L433.2,278.2L434.2,280.8L435.2,280.8ZM658.2,380.8L653.8,379.5L652.0,377.8L648.9,360.8L643.1,348.8L641.0,335.2L642.1,321.8L645.2,306.2L646.2,305.6L652.8,305.4L658.2,303.5L658.2,380.8ZM603.8,346.9L599.2,346.7L597.8,345.8L596.7,344.2L596.3,342.2L596.7,339.8L598.1,337.8L599.8,336.6L601.8,336.3L603.2,336.7L605.4,339.2L606.0,344.8L605.2,346.0L603.8,346.9ZM489.8,391.3L481.8,389.7L478.8,388.1L468.2,371.8L465.7,360.8L466.0,358.8L469.5,351.8L477.2,343.9L479.8,342.8L489.2,341.2L496.2,343.3L499.2,345.0L500.2,347.2L502.1,357.8L501.8,374.8L499.0,384.2L497.6,386.2L491.8,390.5L489.8,391.3ZM495.2,485.3L492.2,485.5L489.8,484.9L487.2,483.6L485.2,481.8L484.3,479.8L484.3,477.2L485.4,475.2L487.2,473.6L490.8,472.0L494.8,471.8L498.7,473.2L501.4,475.8L502.3,478.2L501.5,481.2L498.8,483.9L495.2,485.3ZM508.8,515.4L505.8,515.4L503.8,514.5L501.3,511.8L500.3,508.8L500.4,505.8L501.3,503.2L503.2,501.2L506.2,499.8L508.2,499.9L511.2,501.7L512.9,503.8L513.7,506.2L513.7,508.8L512.7,511.8L510.8,514.1L508.8,515.4ZM521.8,537.4L519.2,537.1L518.2,535.8L520.2,534.6L522.8,535.0L523.6,536.2L521.8,537.4Z"/>
<path fill="#96d2fa" fill-rule="evenodd" d="M608.2,119.3L606.8,119.4L602.8,117.8L595.8,112.4L592.2,111.0L578.8,118.1L569.2,118.2L567.0,117.8L562.0,114.8L560.4,111.8L559.2,105.8L561.8,97.5L563.7,95.2L570.2,91.4L580.2,91.3L586.8,93.0L589.8,93.2L591.8,91.1L598.0,79.2L656.7,79.2L658.2,81.1L658.2,93.2L656.2,97.2L647.8,102.8L627.2,107.9L613.8,115.4L608.2,119.3ZM251.2,201.4L249.7,201.2L248.2,199.0L243.2,196.6L239.8,191.8L236.7,190.2L232.2,182.3L217.2,170.8L213.0,158.8L211.9,153.2L212.4,151.8L216.2,150.9L218.3,151.2L230.2,163.5L250.2,177.5L256.2,179.4L258.8,182.9L270.2,189.8L270.0,190.8L267.8,192.2L263.9,199.8L260.8,200.5L251.2,201.4ZM290.8,175.3L287.2,175.1L283.8,174.1L280.8,172.4L278.8,170.2L277.8,167.8L277.9,165.8L279.1,163.2L281.3,161.2L286.2,159.1L292.2,158.9L297.8,160.6L301.2,163.8L302.1,165.8L302.2,167.8L300.5,171.2L295.8,174.2L290.8,175.3ZM558.2,207.3L552.2,207.2L546.8,204.5L542.7,199.8L540.6,193.8L540.8,187.2L543.3,181.2L547.8,176.8L553.2,174.6L559.2,175.0L564.2,177.7L568.1,182.2L570.2,188.2L570.1,194.2L567.8,200.2L563.7,204.8L558.2,207.3ZM338.8,182.8L334.2,183.2L329.8,182.1L326.8,180.0L326.3,177.8L328.2,176.0L331.8,175.0L335.8,175.0L339.2,176.0L341.8,177.8L342.6,179.8L341.8,181.3L338.8,182.8ZM431.2,334.8L428.2,335.2L423.2,334.2L413.7,328.8L411.2,326.2L405.2,318.2L403.8,315.3L401.8,308.1L390.2,305.0L387.8,303.8L379.8,295.6L375.9,286.8L374.8,285.2L369.2,281.1L358.2,276.2L352.2,270.2L341.2,261.2L333.4,251.2L330.4,242.8L327.4,237.2L324.8,236.0L317.5,234.8L316.2,233.4L313.7,227.2L313.0,222.2L313.0,216.8L313.9,212.8L318.2,210.0L321.8,208.6L340.8,205.4L342.2,204.5L344.6,199.2L342.2,189.2L347.6,179.2L348.8,178.1L357.8,175.2L369.8,175.4L371.2,178.4L378.8,180.6L386.6,185.8L393.1,193.8L396.6,199.2L395.7,201.2L391.8,204.3L381.8,202.9L370.2,204.3L369.4,203.8L368.6,200.8L365.4,197.2L364.2,191.3L359.8,191.1L358.2,191.6L356.7,199.2L360.8,208.8L358.2,214.2L354.3,226.2L355.2,231.2L356.6,234.8L369.5,236.8L370.3,237.8L370.5,242.8L371.9,244.2L374.8,245.4L381.8,244.9L386.8,245.9L394.8,250.7L400.8,256.2L407.2,257.1L410.7,258.2L413.8,260.7L416.8,264.2L422.8,273.5L431.2,278.3L432.1,279.8L432.5,283.2L435.8,285.6L436.8,285.6L444.8,281.0L450.2,279.9L453.8,279.8L458.2,277.9L462.2,278.1L464.2,279.1L465.2,280.2L465.5,283.8L469.3,289.2L472.0,301.2L470.7,308.2L467.2,316.8L464.9,319.8L461.2,322.2L435.1,333.8L431.2,334.8ZM426.8,190.3L424.2,190.4L422.2,189.3L421.5,187.8L422.1,186.2L425.2,184.9L427.2,185.2L428.8,186.1L429.5,187.2L429.2,188.7L426.8,190.3ZM285.2,243.8L280.8,243.8L275.3,242.2L270.7,239.8L267.8,236.9L265.6,233.8L264.2,229.8L263.9,225.2L264.8,221.4L268.5,214.2L270.2,208.7L271.8,207.6L278.8,205.2L280.8,203.8L284.5,199.2L286.3,193.2L287.2,191.6L293.2,187.3L302.2,187.3L308.2,192.2L309.9,198.8L309.7,200.2L305.8,207.1L294.2,210.2L294.0,210.8L297.5,213.8L300.8,219.6L302.5,224.2L301.7,230.2L299.8,234.2L296.2,238.8L290.8,242.5L285.2,243.8ZM450.2,260.8L440.8,256.6L439.8,256.8L436.2,259.9L435.2,259.9L429.6,251.8L424.6,240.8L421.6,230.2L420.1,217.8L420.8,215.9L422.2,215.8L430.8,217.4L449.2,226.7L465.2,220.3L474.7,221.2L490.2,229.3L496.8,229.9L502.8,232.2L504.6,233.8L507.3,242.2L506.3,253.8L505.2,255.5L500.2,259.4L498.8,259.3L491.5,254.8L485.2,246.2L482.8,244.1L478.3,248.2L474.3,254.8L473.2,255.7L458.8,257.5L450.2,260.8ZM591.8,325.8L585.2,325.3L581.2,324.4L575.6,318.8L574.2,313.0L571.2,311.1L568.2,310.7L567.3,309.8L566.4,294.2L573.2,285.8L576.6,275.2L575.3,255.8L576.8,251.2L577.8,249.9L589.2,247.6L594.2,243.0L595.5,240.8L596.5,234.2L597.9,231.8L604.2,228.8L614.2,230.3L618.7,232.2L628.2,238.1L633.8,247.2L638.1,257.2L647.8,261.8L649.0,263.8L650.0,267.2L648.8,268.5L641.8,271.7L629.2,269.7L616.8,266.3L607.8,261.1L601.8,257.0L598.8,254.3L597.8,254.7L596.8,258.2L604.2,274.2L606.2,283.7L604.5,293.8L603.8,302.2L604.0,303.8L606.0,306.2L606.3,307.8L605.2,315.8L603.4,318.8L599.8,322.7L591.8,325.8ZM658.2,354.3L652.6,353.8L646.5,348.8L645.6,346.2L643.6,335.8L645.3,321.8L648.9,310.8L650.6,309.2L656.8,306.2L658.2,305.9L658.2,354.3ZM490.2,389.3L488.8,389.6L482.2,388.0L479.8,386.6L469.7,371.2L467.2,360.8L467.8,358.2L471.2,351.9L478.2,345.3L480.2,344.4L489.2,342.7L492.1,343.2L498.1,346.2L499.6,350.2L501.1,358.2L500.3,374.8L497.6,383.2L496.2,385.1L490.2,389.3ZM603.2,344.8L601.7,344.8L601.5,343.2L602.2,342.9L603.4,343.2L603.8,344.2L603.2,344.8ZM658.2,376.3L655.2,375.1L654.2,373.8L653.7,371.8L654.1,369.8L655.1,368.2L658.2,366.9L658.2,376.3ZM495.2,482.8L491.2,482.8L488.2,481.5L486.7,479.2L487.2,476.7L489.2,475.1L492.2,474.2L495.2,474.4L498.2,475.8L499.6,477.8L499.5,479.8L497.8,481.8L495.2,482.8ZM508.2,514.3L505.8,514.3L504.2,513.6L502.2,511.5L501.2,508.8L501.2,506.2L502.2,503.6L504.1,501.8L506.3,500.8L508.2,500.9L510.6,502.2L511.8,503.8L512.8,506.2L512.8,508.8L511.9,511.2L510.2,513.2L508.2,514.3Z"/>
<path fill="#50a5f5" fill-rule="evenodd" d="M608.2,117.3L603.8,115.9L597.2,110.8L592.2,108.4L578.6,115.8L568.2,115.7L563.8,113.1L562.8,111.1L562.1,105.8L563.8,98.8L565.2,97.0L571.2,93.6L580.2,93.7L589.8,97.0L594.6,92.2L599.1,81.8L601.8,80.7L603.3,79.2L647.9,79.2L649.2,80.8L654.2,81.1L655.2,81.7L654.9,93.8L654.3,96.2L652.0,98.2L647.2,101.5L626.8,106.7L608.2,117.3ZM290.8,168.5L289.2,168.5L288.7,167.2L289.8,166.5L290.8,166.7L291.4,167.8L290.8,168.5ZM557.2,203.8L552.8,203.6L548.8,201.6L545.7,197.8L544.1,192.8L544.4,187.8L546.2,183.2L549.8,179.7L554.2,178.1L558.8,178.6L562.4,180.8L565.2,184.4L566.7,189.2L566.4,194.2L564.6,198.8L561.2,202.2L557.2,203.8ZM379.8,198.8L370.2,198.8L367.4,196.8L366.9,194.8L366.9,185.8L368.2,183.4L370.8,182.7L377.2,184.2L380.6,186.2L385.0,190.2L387.6,196.8L385.8,197.8L379.8,198.8ZM253.8,195.8L251.8,194.8L249.8,191.8L247.2,191.0L245.8,189.6L245.3,187.2L246.9,185.2L253.8,183.2L256.1,184.8L257.3,187.8L257.3,191.2L255.8,194.7L253.8,195.8ZM299.2,205.8L295.8,206.0L292.8,204.8L290.5,202.8L289.1,199.8L289.0,196.2L290.2,193.2L292.2,191.1L295.2,189.7L298.8,189.6L301.8,190.7L303.9,192.8L305.3,195.8L305.5,199.2L304.3,202.2L302.2,204.4L299.2,205.8ZM339.8,234.9L327.8,234.7L320.6,230.8L319.2,228.2L317.8,220.2L317.9,218.8L320.7,213.8L321.8,212.8L333.2,209.8L342.8,208.0L351.8,205.3L352.8,206.2L355.2,210.4L353.6,219.8L346.1,230.2L339.8,234.9ZM286.2,241.8L279.8,241.9L273.2,239.6L268.5,235.2L266.0,229.8L266.0,223.8L268.7,217.8L273.8,213.1L279.8,210.7L286.2,210.5L292.8,212.9L297.5,217.2L300.0,222.8L300.0,228.8L297.3,234.8L292.5,239.2L286.2,241.8ZM460.8,254.3L459.2,254.0L455.8,251.9L450.2,252.8L448.8,252.6L438.5,248.2L429.8,242.9L429.2,241.8L429.1,235.8L427.7,227.8L428.1,226.2L431.8,223.7L433.2,223.3L440.4,226.2L448.2,231.3L449.8,231.7L466.8,224.3L473.8,225.7L475.2,226.6L479.7,232.8L478.0,239.8L474.2,246.4L469.5,252.2L467.2,253.2L460.8,254.3ZM641.8,267.5L629.2,265.7L618.8,262.2L607.8,254.9L600.3,246.2L598.4,236.2L598.8,234.9L604.2,232.0L607.0,232.2L615.8,234.8L625.8,241.6L631.3,250.2L635.2,258.4L643.8,263.0L643.8,264.2L641.8,267.5ZM498.2,252.4L496.6,252.2L490.8,247.9L487.2,242.2L486.2,238.2L486.8,236.7L493.8,234.7L500.2,236.9L502.2,238.2L503.2,248.2L498.2,252.4ZM429.8,333.3L424.2,332.6L415.2,327.8L412.7,325.2L406.8,317.2L403.2,306.4L389.2,302.4L381.3,294.2L376.8,284.2L370.2,279.3L359.2,274.4L353.2,268.5L343.6,260.8L335.3,250.2L333.4,241.2L333.8,239.8L340.8,236.0L342.8,235.6L354.8,238.0L373.8,247.4L381.8,247.1L386.8,248.3L393.2,252.3L399.8,258.2L408.2,259.5L411.8,261.7L416.8,267.8L419.1,272.2L421.2,274.9L429.8,279.7L430.8,285.2L435.8,288.4L436.8,288.4L445.2,283.3L450.8,282.1L461.2,284.2L465.2,286.7L467.3,289.8L469.9,301.8L468.8,307.6L465.9,315.2L464.7,317.2L462.0,319.8L457.8,321.9L433.2,332.4L429.8,333.3ZM591.8,322.8L583.2,321.9L578.6,317.8L577.2,311.4L573.8,310.5L573.2,309.2L574.8,296.2L579.2,279.8L578.2,270.2L578.2,259.7L579.6,257.8L585.8,252.9L591.8,255.2L593.8,257.2L598.7,267.2L601.2,275.8L602.3,284.8L601.9,290.8L602.3,295.2L601.4,302.8L601.6,304.2L603.2,306.9L602.7,314.2L599.2,319.9L591.8,322.8ZM658.2,352.3L653.2,351.4L648.0,345.8L646.6,335.8L646.8,333.8L650.2,325.2L651.8,324.2L657.2,322.8L658.2,322.9L658.2,352.3ZM488.8,387.8L482.8,386.2L480.2,384.6L471.2,370.8L468.7,360.8L469.2,358.7L472.5,352.8L477.4,348.2L480.8,346.1L489.8,344.2L495.8,346.7L497.4,348.2L499.7,356.8L499.8,360.8L498.8,374.8L496.0,382.2L494.6,384.2L490.8,387.0L488.8,387.8ZM508.2,512.3L506.8,512.6L505.2,512.1L503.9,510.8L503.1,508.8L503.0,506.8L503.7,504.8L506.2,502.7L507.8,502.7L509.2,503.5L510.9,506.2L510.6,509.8L509.7,511.2L508.2,512.3Z"/>
<path fill="#2882f0" fill-rule="evenodd" d="M611.2,113.3L607.8,112.7L600.8,107.8L596.5,98.2L597.6,90.8L603.2,84.2L605.8,82.3L612.5,79.2L639.5,79.2L642.2,80.6L646.8,81.2L649.9,93.2L649.2,95.8L646.6,99.8L642.8,101.5L626.8,105.3L619.1,109.8L611.2,113.3ZM573.2,111.4L570.8,111.7L568.8,110.7L567.2,108.2L566.7,105.2L567.3,102.2L568.8,99.6L570.8,97.8L573.2,97.0L575.2,97.6L576.6,98.8L577.7,100.8L578.1,103.2L577.8,105.8L576.7,108.2L575.1,110.2L573.2,111.4ZM373.8,195.8L370.2,195.8L369.2,194.9L369.2,186.8L369.8,185.4L375.8,186.8L378.8,191.2L379.0,192.2L378.4,193.2L373.8,195.8ZM556.8,195.3L555.2,195.6L553.8,195.1L552.0,192.2L552.3,188.8L553.3,187.2L554.8,186.4L557.2,187.1L558.8,189.8L558.7,192.8L556.8,195.3ZM298.2,203.8L295.8,203.7L293.8,202.8L292.2,201.2L291.2,198.8L291.3,196.2L292.2,194.2L293.8,192.7L296.2,191.7L298.8,191.8L300.8,192.7L302.3,194.2L303.3,196.8L303.2,199.2L302.3,201.2L300.8,202.8L298.2,203.8ZM284.2,239.8L278.2,239.3L273.2,236.8L269.6,232.8L268.0,227.8L268.9,222.2L271.8,217.7L276.4,214.2L282.2,212.7L287.8,213.2L292.9,215.8L296.4,219.8L298.0,224.8L297.2,230.0L294.3,234.8L289.8,238.2L284.2,239.8ZM336.8,231.8L333.2,232.1L329.2,231.6L326.8,230.6L324.6,228.8L323.3,226.2L322.9,223.8L323.8,221.0L325.6,218.8L329.8,216.5L334.8,215.9L339.8,217.1L343.2,219.5L345.0,223.2L344.2,227.0L341.0,230.2L336.8,231.8ZM465.8,244.9L463.8,244.9L462.7,243.8L462.2,241.2L462.5,237.8L465.7,231.2L467.2,229.7L469.1,229.2L470.3,230.2L471.0,232.2L470.9,237.2L468.8,242.2L465.8,244.9ZM630.8,260.8L621.2,259.5L611.8,253.9L603.3,246.2L601.4,239.2L601.5,238.2L604.8,237.2L610.2,236.8L621.8,242.6L629.2,252.3L632.1,259.8L631.8,260.5L630.8,260.8ZM431.2,330.8L428.2,331.2L425.8,330.8L417.8,326.9L414.8,324.2L409.5,317.2L407.8,313.9L405.8,305.8L405.8,295.2L401.8,296.9L397.8,297.6L393.8,296.9L391.8,295.9L385.8,291.8L383.7,289.2L381.2,280.8L380.2,279.2L374.2,277.9L369.2,275.7L366.8,273.8L365.4,271.8L362.8,264.7L355.2,260.1L348.2,258.5L344.7,256.2L342.3,252.8L340.8,246.8L340.6,242.8L341.8,240.2L343.2,239.3L345.8,238.9L352.8,240.6L356.2,242.8L359.8,246.8L368.2,251.7L372.2,250.5L380.2,249.3L384.8,249.9L392.1,254.2L398.2,260.4L404.2,260.9L408.8,262.2L411.2,264.2L414.1,267.8L416.6,272.2L417.1,277.8L413.9,286.2L414.1,286.8L430.2,287.6L431.9,288.2L435.2,291.1L436.2,291.4L445.4,285.8L450.8,284.3L460.2,286.2L463.8,288.3L465.1,290.2L465.9,292.8L467.7,301.8L466.8,306.6L464.1,313.8L462.8,316.1L460.8,317.9L456.8,319.9L431.2,330.8ZM592.8,320.3L586.8,319.7L581.8,316.8L579.2,309.2L580.7,296.8L583.1,284.8L584.2,283.0L589.8,277.8L591.2,278.1L597.8,281.8L600.3,293.8L599.0,304.8L600.1,307.2L598.7,315.8L597.2,318.2L592.8,320.3ZM658.2,349.6L656.7,349.2L650.6,344.8L649.1,337.2L649.7,334.2L651.8,329.2L657.2,326.8L658.2,326.9L658.2,349.6ZM489.2,385.8L484.0,384.8L481.5,383.2L472.7,369.8L470.5,360.8L474.2,353.4L478.4,349.8L481.4,347.8L489.8,345.9L494.8,348.2L495.9,349.2L498.0,357.2L498.1,360.2L496.8,375.2L494.0,382.2L489.2,385.8Z"/>
<path fill="#1464d2" fill-rule="evenodd" d="M615.2,109.9L610.8,109.9L608.8,109.1L603.5,105.2L601.7,101.2L600.7,97.8L602.2,92.8L603.4,90.2L607.0,85.8L616.8,81.4L629.2,79.9L638.3,82.8L644.5,87.8L646.2,93.2L642.6,99.2L637.8,101.3L625.8,104.2L618.8,108.4L615.2,109.9ZM298.8,201.3L295.8,201.3L293.7,199.2L293.7,196.2L295.8,194.2L298.8,194.2L300.8,196.2L300.8,199.2L298.8,201.3ZM285.2,237.3L280.2,237.4L275.8,235.8L272.3,232.8L270.5,228.8L270.6,224.2L272.6,220.2L276.2,217.0L280.8,215.2L285.8,215.1L290.2,216.7L293.7,219.8L295.5,223.8L295.4,228.2L293.4,232.2L289.8,235.5L285.2,237.3ZM334.2,229.3L330.8,229.6L327.2,228.3L325.6,225.8L326.2,223.1L328.2,221.5L331.1,220.8L333.8,221.0L336.2,222.1L337.8,224.0L337.8,226.2L336.3,228.2L334.2,229.3ZM398.8,295.3L394.2,294.7L386.9,289.8L385.1,287.2L383.4,280.2L382.2,277.8L380.2,276.7L375.0,275.8L369.0,272.8L367.2,270.5L365.2,264.2L364.2,262.8L356.6,258.2L349.2,256.5L346.2,254.7L344.2,251.8L342.7,246.2L342.5,243.8L343.4,241.8L344.8,241.0L346.8,240.9L352.2,242.7L355.2,244.8L358.2,248.5L368.8,254.6L371.8,252.9L375.2,252.1L380.8,251.4L383.8,251.9L390.8,256.0L397.2,262.7L405.8,263.4L409.2,265.4L414.3,272.2L415.0,276.2L414.6,278.8L411.9,284.8L407.2,290.1L403.2,293.9L398.8,295.3ZM430.2,328.8L426.2,328.6L418.6,324.8L416.0,322.2L410.3,314.2L408.0,305.8L408.0,298.8L408.8,295.8L412.0,291.2L413.8,289.6L416.2,289.0L423.2,289.8L428.8,289.5L430.9,290.2L435.2,294.3L436.2,294.5L441.8,290.3L447.2,287.3L449.8,286.6L453.8,286.8L459.8,288.4L461.8,289.5L463.3,291.8L465.5,301.8L464.8,305.6L461.0,314.8L455.8,317.9L430.2,328.8ZM487.8,381.3L485.5,380.8L481.5,377.2L478.1,369.8L476.5,363.8L477.6,357.8L481.8,350.4L484.2,349.5L489.2,348.9L492.8,351.3L494.5,353.2L495.1,369.8L492.2,378.8L491.2,379.8L487.8,381.3Z"/>
<path fill="#7a68d6" fill-rule="evenodd" d="M617.8,107.4L615.2,107.7L610.2,106.8L606.8,104.2L605.1,101.8L604.3,98.2L605.0,94.2L606.2,91.0L609.3,87.2L617.8,83.0L629.2,81.8L636.8,84.1L641.2,88.3L642.1,90.2L642.0,92.2L640.7,96.2L639.2,98.2L635.2,100.5L625.2,103.0L617.8,107.4ZM282.8,235.3L278.8,234.6L275.2,232.6L273.0,229.2L272.7,225.8L274.0,222.2L276.8,219.4L280.8,217.6L284.8,217.3L288.2,218.3L291.2,220.4L293.0,223.2L293.3,226.8L292.2,229.9L289.8,232.8L286.2,234.7L282.8,235.3ZM399.8,292.9L397.8,293.2L395.2,292.7L388.6,288.2L387.1,286.2L385.4,279.2L383.8,275.9L380.8,274.5L376.2,273.9L370.7,271.2L369.1,269.2L367.2,262.8L366.2,261.4L357.8,256.2L351.2,254.9L347.9,253.2L346.4,251.2L344.8,246.8L344.8,243.8L346.8,242.9L350.7,244.2L353.8,246.5L357.2,250.6L368.8,257.5L369.8,257.3L373.2,254.7L382.2,253.8L389.4,257.8L396.2,264.8L404.2,265.3L407.4,266.8L412.1,272.8L412.8,275.2L412.6,277.8L409.5,284.2L402.8,291.4L399.8,292.9ZM428.8,326.8L426.8,326.4L419.2,322.5L412.1,312.8L410.2,305.2L410.2,298.8L411.1,296.2L414.1,292.2L416.8,291.1L422.8,292.0L428.8,291.8L430.2,292.6L435.8,297.6L436.9,297.2L442.8,292.3L449.8,288.8L452.8,288.8L460.3,291.2L461.9,294.8L463.3,301.8L462.7,304.8L459.2,313.3L454.8,315.9L428.8,326.8ZM485.2,371.5L484.2,371.7L481.2,370.9L479.8,369.2L478.2,364.2L478.8,360.8L479.8,358.9L485.8,359.2L487.8,359.8L488.5,360.8L489.1,364.8L485.2,371.5Z"/>
<path fill="#ac66d4" fill-rule="evenodd" d="M617.8,105.8L611.1,105.2L608.2,103.2L606.8,101.0L606.0,97.8L606.8,94.2L607.9,91.8L610.8,88.4L618.2,84.7L628.8,83.5L635.8,85.6L639.8,89.3L640.3,91.8L639.1,95.2L637.8,97.1L633.0,99.8L624.2,102.0L617.8,105.8ZM283.8,232.8L280.8,232.7L278.1,231.8L275.9,229.8L275.0,227.2L275.3,224.8L276.9,222.2L279.8,220.4L282.8,219.6L285.8,219.9L288.2,220.9L290.2,223.0L291.0,225.2L290.7,227.8L289.1,230.2L286.8,231.9L283.8,232.8ZM353.2,253.0L351.2,252.8L349.1,251.2L347.6,248.8L347.8,247.2L349.8,247.1L352.1,248.8L353.6,251.2L353.2,253.0ZM398.8,290.8L395.8,290.4L389.8,286.2L388.6,283.8L387.2,277.6L385.2,273.8L381.2,272.2L377.0,271.8L372.8,269.9L371.4,268.8L369.5,261.8L370.2,260.3L373.2,257.3L375.8,256.4L382.2,256.2L388.2,259.9L395.2,267.1L404.8,267.7L406.3,268.8L409.1,272.2L410.3,274.2L410.5,276.2L408.2,281.8L401.7,289.2L398.8,290.8ZM429.2,324.3L427.2,324.1L420.8,320.6L414.0,311.2L412.5,304.8L412.5,299.2L415.8,294.0L417.2,293.5L422.2,294.3L428.2,294.1L435.8,300.7L437.8,299.6L443.8,294.3L449.8,291.1L452.2,291.0L458.8,293.0L460.4,297.8L461.1,302.2L457.4,311.8L453.8,313.8L429.2,324.3Z"/>
<path fill="#464646" fill-rule="evenodd" d="M618.2,103.3L616.2,103.7L612.2,103.1L609.2,100.7L608.4,98.2L608.9,95.8L609.8,93.3L612.3,90.2L619.2,86.9L628.2,85.8L634.7,87.8L637.8,90.7L636.8,94.6L634.7,96.2L631.1,98.2L623.2,100.5L618.2,103.3ZM284.2,229.4L281.2,229.4L279.2,227.9L279.0,225.8L280.5,223.8L283.8,222.9L285.2,223.3L286.8,224.6L286.8,227.2L284.2,229.4ZM378.8,269.8L373.7,267.8L372.8,265.8L372.3,262.2L375.8,258.8L381.6,258.8L385.9,262.8L385.8,265.8L385.2,267.2L384.2,268.1L378.8,269.8ZM398.2,288.4L396.7,288.2L391.3,284.2L389.3,274.2L393.8,269.8L403.8,269.8L407.2,273.6L408.0,275.8L404.5,281.2L398.2,288.4ZM429.8,321.3L427.8,321.5L422.0,317.2L416.0,309.8L415.8,303.2L418.6,298.2L420.8,297.3L426.8,296.3L432.8,302.3L436.8,303.7L438.2,302.9L444.8,296.5L449.8,293.7L451.8,293.3L456.8,294.8L457.8,296.7L458.8,301.8L456.6,307.8L455.3,309.8L429.8,321.3Z"/>
</g>
<g stroke="#a0a0a0" stroke-width="1" stroke-dasharray="2,4.5" fill="none" shape-rendering="crispEdges">
<line x1="184.2" y1="80.0" x2="184.2" y2="546.0"/>
<line x1="249.0" y1="80.0" x2="249.0" y2="546.0"/>
<line x1="313.8" y1="80.0" x2="313.8" y2="546.0"/>
<line x1="378.5" y1="80.0" x2="378.5" y2="546.0"/>
<line x1="443.2" y1="80.0" x2="443.2" y2="546.0"/>
<line x1="508.0" y1="80.0" x2="508.0" y2="546.0"/>
<line x1="572.8" y1="80.0" x2="572.8" y2="546.0"/>
<line x1="637.5" y1="80.0" x2="637.5" y2="546.0"/>
<line x1="119.5" y1="118.8" x2="658.0" y2="118.8"/>
<line x1="119.5" y1="157.7" x2="658.0" y2="157.7"/>
<line x1="119.5" y1="196.5" x2="658.0" y2="196.5"/>
<line x1="119.5" y1="235.3" x2="658.0" y2="235.3"/>
<line x1="119.5" y1="274.2" x2="658.0" y2="274.2"/>
<line x1="119.5" y1="313.0" x2="658.0" y2="313.0"/>
<line x1="119.5" y1="351.8" x2="658.0" y2="351.8"/>
<line x1="119.5" y1="390.7" x2="658.0" y2="390.7"/>
<line x1="119.5" y1="429.5" x2="658.0" y2="429.5"/>
<line x1="119.5" y1="468.3" x2="658.0" y2="468.3"/>
<line x1="119.5" y1="507.2" x2="658.0" y2="507.2"/>
</g>
<g clip-path="url(#fr)" stroke="#000" stroke-width="1.8" fill="none" stroke-linejoin="round" stroke-linecap="round">
<polyline points="120.0,81.0 125.0,84.4 130.0,86.0 135.0,84.4 138.0,81.0"/>
<polyline points="270.0,106.4 264.0,108.0 258.0,106.0 250.0,101.0 244.0,99.0 238.0,105.0 230.0,103.0 221.0,101.0 214.0,106.0 208.0,115.0 206.0,118.6 201.0,118.0 195.0,114.0 189.0,106.0 184.0,102.0 174.0,101.6 169.6,106.0 168.4,116.0 168.0,126.0 167.0,133.0 172.0,137.0 180.0,141.6 184.0,147.0 186.0,154.0 192.0,160.0 196.0,166.0 197.0,172.0 195.0,179.0 199.0,182.0 204.0,190.0"/>
<polyline points="270.0,106.4 278.0,108.0 286.0,110.0 294.0,109.4 300.0,113.0 304.0,114.4 310.0,112.0 318.0,111.0 323.0,112.0 328.0,109.0 336.0,109.4 350.0,111.0 358.0,115.0 364.0,119.0 365.0,125.0 370.0,129.0 379.0,129.6"/>
<polyline points="379.0,129.6 382.0,122.0 385.0,114.0 387.0,106.0 390.0,102.0 398.0,105.0 404.0,105.0 405.0,102.0 402.0,100.4 392.0,100.0 386.0,96.0 379.0,91.0 377.0,87.0 378.0,82.4 384.0,81.0"/>
<polyline points="379.0,129.6 386.0,127.0 394.0,125.0 401.0,127.0 402.4,130.0 400.0,139.0 395.0,147.0 388.0,155.0 385.6,162.0 386.0,170.0 390.0,174.4 398.0,178.0 406.0,184.0"/>
<polyline points="494.0,81.0 499.0,86.0 508.0,93.0 518.0,97.0 528.0,101.0 536.0,103.0 539.6,108.0 537.0,114.0 532.0,118.0 536.0,122.0 542.0,123.6 543.0,127.0 539.0,129.0 532.0,129.6 530.6,133.0 534.0,136.0 542.0,137.0 546.0,139.0 548.0,145.0 556.0,146.0 566.0,145.6 572.0,148.0 575.0,154.0 581.0,159.4 587.0,153.0 594.0,144.0 601.6,140.4 606.0,144.0 614.0,149.0 619.0,150.0 621.0,153.0 618.0,155.0 610.0,154.0 604.0,156.0 602.0,161.0 605.0,168.0 610.0,174.0 616.0,179.0"/>
<polyline points="616.0,179.0 613.0,184.0 611.0,190.0"/>
<polyline points="616.0,179.0 624.0,184.0 632.0,188.0 638.0,190.0"/>
<polyline points="136.0,190.0 142.0,195.0 150.0,203.0 160.0,210.0 170.0,215.0 178.0,219.0 181.0,223.0 179.0,227.0 181.0,232.0 186.0,236.4 193.0,237.0 200.0,233.0 208.0,231.6 214.0,232.4 220.0,237.0 230.0,241.0 242.0,244.0 248.0,249.0 253.0,255.0 262.0,260.0 270.0,265.0"/>
<polyline points="204.0,190.0 214.0,195.0 222.0,199.0 230.0,207.0 238.0,216.0 250.0,228.0 260.0,235.0 265.6,239.0 265.0,246.0 268.0,252.0 270.0,254.0"/>
<polyline points="120.0,194.0 134.0,204.0 132.0,207.0 119.0,197.0 120.0,194.0"/>
<polyline points="210.0,248.0 214.0,244.0 226.0,245.0 238.0,247.0 241.6,251.0 238.0,254.0 226.0,254.0 216.0,252.0 210.0,248.0"/>
<polyline points="209.0,259.0 218.0,258.0 230.0,260.0 242.0,262.4 254.0,263.0 256.0,265.6 248.0,266.0 236.0,265.0 224.0,263.6 214.0,262.0 209.0,259.0"/>
<polyline points="187.0,270.0 190.0,268.0 199.0,268.0 200.4,270.4 197.0,273.0 189.0,273.6 187.0,270.0"/>
<polyline points="225.0,276.0 230.0,274.4 238.0,276.4 246.0,276.0 258.0,276.4 261.0,279.0 258.0,281.0 248.0,281.0 238.0,282.4 230.0,280.4 225.0,276.0"/>
<polyline points="430.0,263.0 438.0,266.0 446.0,272.0 454.0,280.0 462.0,286.0 467.0,287.0 460.0,290.0 450.0,292.0 444.0,294.0 442.0,297.0 446.0,300.0 450.0,302.0 451.0,310.0"/>
<polyline points="611.0,190.0 604.0,193.0 598.0,198.0 596.0,208.0 598.0,218.0 601.0,227.0 606.0,235.0 612.0,240.0 620.0,243.0 626.0,248.0 630.0,255.0 637.0,259.0 636.0,265.0 630.0,272.0 624.0,279.0 620.0,283.0 608.0,283.0 602.0,287.0 601.0,298.0 602.0,310.0"/>
<polyline points="640.0,190.0 638.0,194.0 630.0,198.0 626.0,204.0 628.0,208.0 638.0,210.0 648.0,211.0 658.0,208.0"/>
<polyline points="119.6,352.4 124.0,356.4 136.0,358.6 154.0,358.0 170.0,357.6 180.0,357.0 187.0,355.6 192.0,358.0 197.0,364.4 195.0,370.0 187.0,375.0 178.0,381.0 177.0,389.0 180.0,393.0 190.0,398.0 202.0,403.0 214.0,408.0 225.0,414.0 238.0,418.0 250.0,422.0 262.0,427.0 268.0,430.0"/>
<polyline points="332.0,310.0 340.0,316.0 347.0,319.0 352.0,322.0 358.0,325.0 362.0,329.0 369.0,330.0 374.0,335.0 379.0,340.0 383.0,342.0 386.0,348.0 388.0,355.0 394.0,358.0 400.0,360.0 402.0,363.0 410.0,363.0 417.0,367.0 416.0,380.0 413.0,385.0 409.0,392.0 407.0,398.0 408.0,406.0 411.0,409.0 410.0,418.0 407.0,428.0 410.0,430.0"/>
<polyline points="418.0,310.0 410.0,322.0 402.0,332.0 397.0,337.0 403.0,343.0 402.0,350.0 401.0,358.0 402.0,363.0"/>
<polyline points="451.0,310.0 456.0,316.0 458.0,325.0 468.0,328.0 475.0,333.0 478.0,340.0 480.0,350.0 482.0,359.0 485.0,362.0 490.0,361.0 493.0,357.0 492.4,350.0 496.0,345.0 504.0,341.0 512.0,337.0 516.0,335.0 521.0,340.0 522.0,344.4 527.0,344.4 528.0,340.0 532.0,335.0 538.0,330.0 544.0,332.0 554.0,333.0 562.0,326.0 570.0,325.0 578.0,327.0 586.0,326.4 594.0,324.0 602.0,321.0 607.0,317.0 608.0,310.0"/>
<polyline points="482.4,360.0 479.0,368.0 477.0,378.0 473.0,386.0 472.4,390.0 478.0,396.0 479.0,400.0 475.0,406.0 477.0,414.0 482.0,422.0 488.0,430.0"/>
<polyline points="521.0,340.0 528.0,340.0"/>
<polyline points="594.0,324.0 600.0,332.0 606.0,339.0 614.0,345.0 624.0,349.0 628.0,356.0 633.0,366.0 638.0,373.0 634.0,382.0 634.0,403.0"/>
<polyline points="562.0,430.0 568.0,420.0 576.0,417.0 586.0,415.6 592.0,417.0 596.0,419.6 606.0,419.6 616.0,418.0 620.0,414.0 621.0,405.0 625.0,402.0 634.0,403.0 642.0,404.0 650.0,403.0 652.0,399.0 658.0,397.6"/>
<polyline points="119.6,492.0 126.0,493.6 132.0,498.0 140.0,505.0 145.6,508.0 150.0,504.0 155.0,501.0 160.0,502.0 165.0,509.0 169.0,516.0 170.0,524.0 172.0,532.0 176.0,540.0 180.0,546.0"/>
<polyline points="270.0,469.0 262.0,467.6 252.0,466.6 246.0,469.0 240.0,475.0 234.0,484.0 230.0,492.0 224.0,500.0 223.0,510.0 219.0,518.0 215.0,525.0 217.0,531.0 222.0,535.0 230.0,536.0 238.0,540.0 246.0,546.0"/>
<polyline points="270.0,468.0 263.0,475.0 270.0,479.0"/>
<polyline points="268.0,430.0 270.0,435.0 279.0,443.0 290.0,447.0 302.0,451.0 313.0,455.0 316.0,463.0 324.0,469.0 334.0,476.0 341.0,484.0 345.0,492.0 347.0,499.0 340.0,507.0 339.0,516.0 338.0,523.0 330.0,520.0 322.0,517.0 315.0,510.0 313.0,507.0 314.4,499.0 310.0,490.0 307.0,485.0 302.0,483.4 290.0,483.0 280.0,483.6 274.0,480.4 270.0,479.6"/>
<polyline points="410.0,430.0 412.4,435.0 408.0,438.0 404.4,442.0 402.0,450.0 398.0,457.0 403.0,461.0 408.0,464.0 409.0,472.0 408.0,480.0 405.0,481.0 402.0,475.0 399.0,472.6 397.0,474.4 402.0,482.0 408.0,489.0 414.0,493.0 422.0,496.0 430.0,501.0"/>
<polyline points="430.0,522.6 422.0,523.0 419.0,527.0 422.0,533.0 427.0,538.0 430.0,539.0"/>
<polyline points="488.0,430.0 490.0,436.0 498.0,437.0 505.0,435.0 507.0,440.0 508.0,448.0 511.0,455.0 510.0,462.0 506.0,467.0 498.0,471.0 494.0,475.0 492.4,482.0 489.0,488.0 487.0,494.0 484.0,499.0 478.0,501.0 472.0,501.0 467.0,505.0 463.0,509.0 466.0,514.0 468.0,520.0 463.0,523.0 462.0,528.0 455.0,534.0 450.0,532.0 444.0,530.0 441.0,524.0 442.0,516.0 438.0,508.0 430.0,501.0"/>
<polyline points="507.0,440.0 516.0,440.0 526.0,439.0 532.0,436.0 538.0,435.6 545.0,438.4 552.0,437.6 558.0,435.0 562.0,430.0"/>
<polyline points="430.0,522.4 435.0,522.0 438.0,525.0 436.0,529.0 432.0,531.0 433.0,536.0 437.0,539.0 438.0,546.0"/>
<polyline points="450.0,532.0 455.0,535.0 457.0,542.0 456.4,546.0"/>
<polyline points="658.0,488.0 650.0,485.0 640.0,480.0 630.0,475.0 627.0,470.0 630.0,466.0 635.0,464.0 635.0,459.0 631.0,457.0 628.0,459.0 626.0,463.0 620.0,465.6 614.0,467.0 610.0,471.0 612.4,477.0 611.0,484.0 609.0,490.0 607.0,495.0 608.0,501.0 611.0,506.0 616.0,510.0 622.0,517.0 627.0,524.0 629.0,533.0 634.0,540.0 640.0,545.6"/>
<polyline points="400.0,180.6 406.2,185.0 410.0,186.9 415.0,190.0 418.1,193.1 417.5,196.2 413.8,198.8 407.5,199.8 401.2,199.0 395.6,196.5 393.1,196.9 393.8,199.4 397.5,201.9 402.5,207.5 407.5,212.5 410.0,216.2 410.0,222.5 408.1,228.1 402.5,230.0 396.2,233.1 393.8,235.6"/>
<polyline points="393.8,235.6 395.0,238.1 400.0,240.6 406.2,245.0 411.2,250.0 415.0,255.0 418.8,260.0 430.0,263.1"/>
<polyline points="393.8,235.6 390.0,233.8 383.8,231.9 379.4,231.0 376.2,233.8 375.0,236.9 376.2,238.8 379.4,240.0 381.2,245.0 383.8,248.8 384.4,252.5 381.2,255.6 377.5,253.1 375.6,250.0 373.8,246.9 368.8,246.2 364.4,248.8 360.0,253.8 357.5,257.5 356.9,260.0"/>
<polyline points="240.0,243.8 245.0,246.2 250.0,251.2 253.8,256.2 260.0,260.6 266.2,263.1 272.5,267.5 277.5,271.2 280.0,275.0 282.5,277.5 287.5,278.8 291.2,276.9 292.2,272.5 290.6,268.8 287.5,265.6 282.5,262.5 276.2,258.8 270.0,254.4 266.9,250.6 265.6,245.0 264.4,241.9 266.2,240.0 265.6,239.0"/>
<polyline points="249.4,274.4 248.8,271.9 252.5,270.6 258.8,271.2 267.5,273.1 275.0,276.9 281.2,280.0 287.5,281.9 291.2,283.8 292.5,281.2 295.0,279.8 300.0,281.2 305.0,285.6 311.2,290.0 317.5,293.8 323.8,297.5 328.8,301.2 332.5,303.8 335.0,302.5 338.8,303.1 340.0,305.0"/>
<polyline points="249.4,274.4 256.2,275.0 265.0,276.9 272.5,281.2 280.0,285.6 290.0,288.1 298.8,290.0 305.0,291.2 310.0,295.0 317.5,300.0 325.0,305.0 332.5,310.0 340.0,314.4"/>
<polyline points="269.4,291.2 272.5,289.4 278.8,290.6 286.2,293.1 293.8,295.0 297.5,296.9 296.9,298.5 290.0,296.2 282.5,295.0 275.0,293.1 269.4,291.2"/>
<polyline points="340.0,305.0 343.0,308.0 346.0,306.5 350.5,300.5 347.5,294.5 344.5,288.5 343.0,282.5 343.7,276.5 349.0,272.0 355.0,270.5 356.5,266.0 356.8,260.0"/>
<polyline points="331.0,311.0 340.0,317.0 346.0,320.0"/>
<polyline points="343.0,308.0 343.7,315.5 346.0,319.2 350.5,317.7 355.0,315.5 358.0,313.2 359.5,317.0 355.0,320.0 350.5,319.2 353.5,323.0 358.0,321.5 362.5,319.2 363.2,315.5 360.2,314.7"/>
<polyline points="358.0,323.0 362.5,328.2 370.0,331.2"/>
<polyline points="417.7,310.2 422.5,302.0 426.2,301.2 427.0,309.5 430.0,314.0 437.5,311.7 448.0,308.0 449.0,303.5 448.0,296.0 444.2,294.2 440.5,296.7 443.5,298.4 448.0,296.0"/>
<polyline points="119.5,152.0 123.0,154.0 128.0,159.0 134.0,165.0 140.0,170.0 146.0,173.5 151.0,174.5 153.5,175.5 150.0,176.5 145.0,176.5 139.0,172.5 135.5,172.0 128.0,164.5 123.0,159.0 120.0,157.0"/>
<polyline points="120.0,160.0 123.0,165.0 127.0,171.0 130.0,174.0 134.0,172.5 137.0,172.0 136.0,174.5 138.5,176.0 138.0,177.2 132.5,177.0 129.0,175.5 127.0,176.5 128.0,180.0 131.0,184.0 136.0,189.0 141.0,194.0 146.0,198.0 148.0,200.0"/>
<polyline stroke-width="1.1" points="467.0,287.0 476.0,285.0 478.0,281.0 476.0,278.0 480.0,274.0 485.0,271.0 487.0,266.0 482.4,260.0 486.0,258.0 492.0,256.0 496.0,253.6 500.0,258.0 498.0,260.0 504.0,264.0 510.0,265.0 516.0,266.0 518.0,272.0 523.0,274.0 524.0,281.0 530.0,283.0 535.0,286.0 534.0,294.0 542.0,295.0 548.0,298.0 556.0,298.0 558.0,302.0 555.0,310.0"/>
<polyline stroke-width="1.1" points="555.0,308.0 554.0,310.0 550.0,316.0 550.0,320.0 544.0,323.0 542.0,327.0 545.0,330.0 544.0,332.0"/>
</g>
<rect x="119.5" y="80.0" width="538.5" height="466.0" fill="none" stroke="#000" stroke-width="2.2"/>
<g stroke="#000" stroke-width="1.2">
<line x1="119.5" y1="546.0" x2="119.5" y2="550.0"/>
<line x1="184.2" y1="546.0" x2="184.2" y2="550.0"/>
<line x1="249.0" y1="546.0" x2="249.0" y2="550.0"/>
<line x1="313.8" y1="546.0" x2="313.8" y2="550.0"/>
<line x1="378.5" y1="546.0" x2="378.5" y2="550.0"/>
<line x1="443.2" y1="546.0" x2="443.2" y2="550.0"/>
<line x1="508.0" y1="546.0" x2="508.0" y2="550.0"/>
<line x1="572.8" y1="546.0" x2="572.8" y2="550.0"/>
<line x1="637.5" y1="546.0" x2="637.5" y2="550.0"/>
<line x1="115.0" y1="80.0" x2="119.5" y2="80.0"/>
<line x1="115.0" y1="118.8" x2="119.5" y2="118.8"/>
<line x1="115.0" y1="157.7" x2="119.5" y2="157.7"/>
<line x1="115.0" y1="196.5" x2="119.5" y2="196.5"/>
<line x1="115.0" y1="235.3" x2="119.5" y2="235.3"/>
<line x1="115.0" y1="274.2" x2="119.5" y2="274.2"/>
<line x1="115.0" y1="313.0" x2="119.5" y2="313.0"/>
<line x1="115.0" y1="351.8" x2="119.5" y2="351.8"/>
<line x1="115.0" y1="390.7" x2="119.5" y2="390.7"/>
<line x1="115.0" y1="429.5" x2="119.5" y2="429.5"/>
<line x1="115.0" y1="468.3" x2="119.5" y2="468.3"/>
<line x1="115.0" y1="507.2" x2="119.5" y2="507.2"/>
<line x1="115.0" y1="546.0" x2="119.5" y2="546.0"/>
</g>
<text x="119.5" y="560" text-anchor="middle">15E</text>
<text x="184.2" y="560" text-anchor="middle">16E</text>
<text x="249.0" y="560" text-anchor="middle">17E</text>
<text x="313.8" y="560" text-anchor="middle">18E</text>
<text x="378.5" y="560" text-anchor="middle">19E</text>
<text x="443.2" y="560" text-anchor="middle">20E</text>
<text x="508.0" y="560" text-anchor="middle">21E</text>
<text x="572.8" y="560" text-anchor="middle">22E</text>
<text x="637.5" y="560" text-anchor="middle">23E</text>
<text x="113.5" y="84.5" text-anchor="end">45.5N</text>
<text x="113.5" y="123.3" text-anchor="end">45N</text>
<text x="113.5" y="162.2" text-anchor="end">44.5N</text>
<text x="113.5" y="201.0" text-anchor="end">44N</text>
<text x="113.5" y="239.8" text-anchor="end">43.5N</text>
<text x="113.5" y="278.7" text-anchor="end">43N</text>
<text x="113.5" y="317.5" text-anchor="end">42.5N</text>
<text x="113.5" y="356.3" text-anchor="end">42N</text>
<text x="113.5" y="395.2" text-anchor="end">41.5N</text>
<text x="113.5" y="434.0" text-anchor="end">41N</text>
<text x="113.5" y="472.8" text-anchor="end">40.5N</text>
<text x="113.5" y="511.7" text-anchor="end">40N</text>
<text x="113.5" y="550.5" text-anchor="end">39.5N</text>
<rect x="212.0" y="55.5" width="37.5" height="10.0" fill="#b4faaa" stroke="#000" stroke-width="1"/>
<rect x="249.5" y="55.5" width="37.5" height="10.0" fill="#78f573" stroke="#000" stroke-width="1"/>
<rect x="287.0" y="55.5" width="37.5" height="10.0" fill="#37d23c" stroke="#000" stroke-width="1"/>
<rect x="324.5" y="55.5" width="37.5" height="10.0" fill="#0fa00f" stroke="#000" stroke-width="1"/>
<rect x="362.0" y="55.5" width="37.5" height="10.0" fill="#96d2fa" stroke="#000" stroke-width="1"/>
<rect x="399.5" y="55.5" width="37.5" height="10.0" fill="#50a5f5" stroke="#000" stroke-width="1"/>
<rect x="437.0" y="55.5" width="37.5" height="10.0" fill="#2882f0" stroke="#000" stroke-width="1"/>
<rect x="474.5" y="55.5" width="37.5" height="10.0" fill="#1464d2" stroke="#000" stroke-width="1"/>
<rect x="512.0" y="55.5" width="37.5" height="10.0" fill="#7a68d6" stroke="#000" stroke-width="1"/>
<rect x="549.5" y="55.5" width="37.5" height="10.0" fill="#ac66d4" stroke="#000" stroke-width="1"/>
<path d="M587.0,55.5 L625.0,60.5 L587.0,65.5 Z" fill="#464646" stroke="#464646" stroke-width="1"/>
<path d="M210.0,55.5 L180.0,60.5 L210.0,65.5" fill="none" stroke="#000" stroke-width="1" stroke-dasharray="3,3"/>
<path d="M208.0,55.5 L212.0,55.5 L212.0,65.5 L208.0,65.5" fill="none" stroke="#000" stroke-width="1"/>
<text x="212.5" y="75.8" text-anchor="middle" class="cbl">0.1</text>
<text x="250.0" y="75.8" text-anchor="middle" class="cbl">1</text>
<text x="287.5" y="75.8" text-anchor="middle" class="cbl">2</text>
<text x="325.0" y="75.8" text-anchor="middle" class="cbl">4</text>
<text x="362.5" y="75.8" text-anchor="middle" class="cbl">6</text>
<text x="400.0" y="75.8" text-anchor="middle" class="cbl">10</text>
<text x="437.5" y="75.8" text-anchor="middle" class="cbl">15</text>
<text x="475.0" y="75.8" text-anchor="middle" class="cbl">30</text>
<text x="512.5" y="75.8" text-anchor="middle" class="cbl">60</text>
<text x="550.0" y="75.8" text-anchor="middle" class="cbl">90</text>
<text x="587.5" y="75.8" text-anchor="middle" class="cbl">120</text>
<text x="7.00" y="21.25" textLength="206.0" lengthAdjust="spacing" style="font-size:14.8px;font-weight:normal;fill:#000;stroke:#000;stroke-width:0.45">wrf-nmmE_v3.9.1-e3km</text>
<text x="196.50" y="20.50" textLength="3.3" lengthAdjust="spacingAndGlyphs" style="font-size:10.5px;font-weight:normal;fill:#a8a8a8;stroke:#a8a8a8;stroke-width:0.15">(</text>
<text x="221.00" y="20.50" textLength="6.0" lengthAdjust="spacingAndGlyphs" style="font-size:10.5px;font-weight:normal;fill:#a8a8a8;stroke:#a8a8a8;stroke-width:0.15">x</text>
<text x="236.30" y="20.50" textLength="2.0" lengthAdjust="spacingAndGlyphs" style="font-size:10.5px;font-weight:normal;fill:#a8a8a8;stroke:#a8a8a8;stroke-width:0.15">.</text>
<text x="246.00" y="20.50" textLength="35.0" lengthAdjust="spacing" style="font-size:10.5px;font-weight:normal;fill:#a8a8a8;stroke:#a8a8a8;stroke-width:0.15">degree</text>
<text x="288.70" y="20.50" textLength="3.3" lengthAdjust="spacingAndGlyphs" style="font-size:10.5px;font-weight:normal;fill:#a8a8a8;stroke:#a8a8a8;stroke-width:0.15">)</text>
<text x="108.25" y="42.50" textLength="143.8" lengthAdjust="spacing" style="font-size:14.5px;font-weight:normal;fill:#000;stroke:#000;stroke-width:0.45">Snow Depth [cm]</text>
<text x="455.00" y="21.00" textLength="100.5" lengthAdjust="spacing" style="font-size:14.5px;font-weight:normal;fill:#000;stroke:#000;stroke-width:0.45">initialisation:</text>
<text x="567.50" y="21.00" textLength="98.0" lengthAdjust="spacing" style="font-size:14.5px;font-weight:normal;fill:#000;stroke:#000;stroke-width:0.45">2021.03.18.</text>
<text x="683.75" y="21.00" textLength="45.2" lengthAdjust="spacing" style="font-size:14.5px;font-weight:normal;fill:#000;stroke:#000;stroke-width:0.45">00:00</text>
<text x="739.00" y="21.00" textLength="28.0" lengthAdjust="spacingAndGlyphs" style="font-size:14.5px;font-weight:normal;fill:#000;stroke:#000;stroke-width:0.45">UTC</text>
<text x="457.00" y="42.50" textLength="98.5" lengthAdjust="spacing" style="font-size:14.5px;font-weight:normal;fill:#000;stroke:#000;stroke-width:0.45">valid(+05h):</text>
<text x="567.50" y="42.50" textLength="102.5" lengthAdjust="spacing" style="font-size:14.5px;font-weight:normal;fill:#000;stroke:#000;stroke-width:0.45">2021.MAR.18</text>
<text x="681.00" y="42.50" textLength="44.0" lengthAdjust="spacing" style="font-size:14.5px;font-weight:normal;fill:#000;stroke:#000;stroke-width:0.45">05:00</text>
<text x="736.00" y="42.50" textLength="29.0" lengthAdjust="spacingAndGlyphs" style="font-size:14.5px;font-weight:normal;fill:#000;stroke:#000;stroke-width:0.45">UTC</text>
<text x="4.00" y="616.00" textLength="85.0" lengthAdjust="spacingAndGlyphs" style="font-size:10.8px;font-weight:bold;fill:#000;stroke:#000;stroke-width:0.15">GrADS: COLA/IGES</text>
<text x="684.00" y="616.00" textLength="93.0" lengthAdjust="spacing" style="font-size:10.8px;font-weight:bold;fill:#000;stroke:#000;stroke-width:0.15">2021-03-18-09:41</text>
</svg>
</body></html>
